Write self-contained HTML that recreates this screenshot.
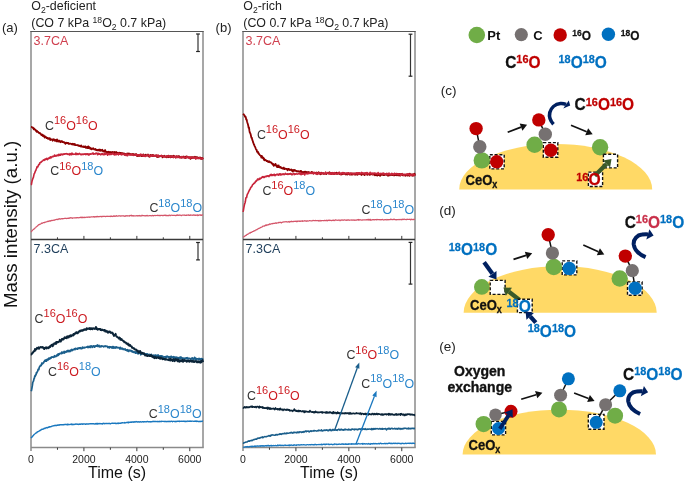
<!DOCTYPE html>
<html><head><meta charset="utf-8"><style>
html,body{margin:0;padding:0;background:#fff;}
svg{display:block;will-change:transform;font-family:"Liberation Sans", sans-serif;}
</style></head><body>
<svg width="685" height="482" viewBox="0 0 685 482">
<rect width="685" height="482" fill="#fff"/>
<line x1="31" y1="31.5" x2="31" y2="451.1" stroke="#8a8a8a" stroke-width="1.5"/>
<line x1="203" y1="31.5" x2="203" y2="447.6" stroke="#8a8a8a" stroke-width="1.5"/>
<line x1="30.25" y1="31.5" x2="203.75" y2="31.5" stroke="#555" stroke-width="1.15"/>
<line x1="31" y1="239.5" x2="203" y2="239.5" stroke="#3a3a3a" stroke-width="1.6"/>
<line x1="31" y1="447.6" x2="203.75" y2="447.6" stroke="#8a8a8a" stroke-width="1.5"/>
<line x1="57.46" y1="239.5" x2="57.46" y2="237.3" stroke="#3a3a3a" stroke-width="1"/>
<line x1="57.46" y1="447.6" x2="57.46" y2="449.8" stroke="#3a3a3a" stroke-width="1"/>
<line x1="83.92" y1="239.5" x2="83.92" y2="235.9" stroke="#3a3a3a" stroke-width="1"/>
<line x1="83.92" y1="447.6" x2="83.92" y2="451.20000000000005" stroke="#3a3a3a" stroke-width="1"/>
<line x1="110.38" y1="239.5" x2="110.38" y2="237.3" stroke="#3a3a3a" stroke-width="1"/>
<line x1="110.38" y1="447.6" x2="110.38" y2="449.8" stroke="#3a3a3a" stroke-width="1"/>
<line x1="136.85" y1="239.5" x2="136.85" y2="235.9" stroke="#3a3a3a" stroke-width="1"/>
<line x1="136.85" y1="447.6" x2="136.85" y2="451.20000000000005" stroke="#3a3a3a" stroke-width="1"/>
<line x1="163.31" y1="239.5" x2="163.31" y2="237.3" stroke="#3a3a3a" stroke-width="1"/>
<line x1="163.31" y1="447.6" x2="163.31" y2="449.8" stroke="#3a3a3a" stroke-width="1"/>
<line x1="189.77" y1="239.5" x2="189.77" y2="235.9" stroke="#3a3a3a" stroke-width="1"/>
<line x1="189.77" y1="447.6" x2="189.77" y2="451.20000000000005" stroke="#3a3a3a" stroke-width="1"/>
<text x="31.00" y="462.5" font-size="10.5" fill="#222" font-weight="normal" text-anchor="middle" >0</text>
<text x="83.92" y="462.5" font-size="10.5" fill="#222" font-weight="normal" text-anchor="middle" >2000</text>
<text x="136.85" y="462.5" font-size="10.5" fill="#222" font-weight="normal" text-anchor="middle" >4000</text>
<text x="189.77" y="462.5" font-size="10.5" fill="#222" font-weight="normal" text-anchor="middle" >6000</text>
<text x="117.00" y="478.2" font-size="16" fill="#111" font-weight="normal" text-anchor="middle" >Time (s)</text>
<path d="M31.00,232.00 L31.40,231.62 L31.80,231.06 L32.20,230.51 L32.60,230.18 L33.00,229.67 L33.41,229.48 L33.81,229.35 L34.21,228.61 L34.61,228.22 L35.01,228.09 L35.41,227.72 L35.81,227.33 L36.21,226.79 L36.61,226.64 L37.01,226.46 L37.41,225.74 L37.82,225.62 L38.22,225.04 L38.62,224.89 L39.02,224.53 L39.42,224.61 L39.82,224.18 L40.22,224.28 L40.62,224.06 L41.02,223.80 L41.42,223.15 L41.83,223.37 L42.23,223.30 L42.63,223.17 L43.03,222.69 L43.43,222.75 L43.83,222.50 L44.23,222.40 L44.63,222.63 L45.03,222.13 L45.43,222.15 L45.83,222.21 L46.24,221.80 L46.64,221.77 L47.04,221.70 L47.44,221.58 L47.84,221.21 L48.24,221.36 L48.64,221.52 L49.04,220.83 L49.44,221.22 L49.84,220.97 L50.24,220.73 L50.65,221.17 L51.05,220.83 L51.45,220.35 L51.85,220.52 L52.25,220.53 L52.65,220.30 L53.05,220.39 L53.45,220.15 L53.85,220.21 L54.25,220.28 L54.66,219.78 L55.06,219.87 L55.46,219.66 L55.86,219.70 L56.26,219.36 L56.66,219.40 L57.06,219.41 L57.46,219.55 L57.86,219.53 L58.26,218.97 L58.66,219.00 L59.07,219.23 L59.47,218.64 L59.87,218.88 L60.27,218.90 L60.67,219.11 L61.07,218.95 L61.47,218.69 L61.87,218.64 L62.27,218.62 L62.67,218.93 L63.07,218.51 L63.48,218.50 L63.88,218.60 L64.28,218.47 L64.68,218.42 L65.08,218.21 L65.48,218.40 L65.88,218.28 L66.28,218.58 L66.68,218.45 L67.08,218.28 L67.48,218.40 L67.89,218.17 L68.29,218.42 L68.69,218.19 L69.09,218.28 L69.49,217.88 L69.89,218.19 L70.29,217.76 L70.69,217.67 L71.09,217.99 L71.49,217.86 L71.90,218.05 L72.30,218.44 L72.70,217.81 L73.10,217.83 L73.50,217.98 L73.90,218.02 L74.30,217.86 L74.70,217.84 L75.10,218.00 L75.50,217.95 L75.90,217.62 L76.31,217.79 L76.71,217.80 L77.11,217.56 L77.51,217.80 L77.91,217.56 L78.31,217.91 L78.71,217.73 L79.11,217.69 L79.51,217.54 L79.91,217.61 L80.31,217.22 L80.72,217.37 L81.12,217.65 L81.52,217.13 L81.92,217.70 L82.32,217.16 L82.72,217.64 L83.12,217.30 L83.52,217.60 L83.92,217.45 L84.32,217.09 L84.72,217.63 L85.13,217.65 L85.53,217.32 L85.93,217.26 L86.33,217.26 L86.73,217.07 L87.13,217.47 L87.53,217.12 L87.93,217.19 L88.33,217.02 L88.73,217.03 L89.14,216.88 L89.54,217.37 L89.94,217.06 L90.34,217.26 L90.74,217.05 L91.14,216.89 L91.54,216.94 L91.94,216.87 L92.34,216.97 L92.74,216.87 L93.14,216.86 L93.55,216.62 L93.95,216.72 L94.35,217.19 L94.75,216.70 L95.15,216.61 L95.55,216.86 L95.95,217.06 L96.35,216.47 L96.75,216.70 L97.15,216.59 L97.55,216.35 L97.96,216.83 L98.36,216.66 L98.76,216.66 L99.16,216.47 L99.56,216.70 L99.96,216.48 L100.36,216.54 L100.76,216.33 L101.16,216.29 L101.56,216.79 L101.97,216.40 L102.37,216.55 L102.77,216.46 L103.17,216.37 L103.57,216.34 L103.97,216.55 L104.37,216.35 L104.77,216.37 L105.17,216.39 L105.57,216.61 L105.97,216.49 L106.38,216.42 L106.78,216.22 L107.18,216.05 L107.58,216.50 L107.98,216.49 L108.38,216.26 L108.78,216.39 L109.18,216.43 L109.58,216.43 L109.98,216.43 L110.38,216.15 L110.79,216.53 L111.19,215.97 L111.59,216.38 L111.99,216.30 L112.39,216.37 L112.79,216.56 L113.19,216.47 L113.59,215.94 L113.99,215.82 L114.39,216.31 L114.79,215.94 L115.20,216.13 L115.60,216.29 L116.00,215.79 L116.40,215.69 L116.80,216.15 L117.20,216.10 L117.60,216.04 L118.00,216.09 L118.40,215.90 L118.80,215.76 L119.21,216.02 L119.61,215.85 L120.01,215.71 L120.41,216.14 L120.81,216.02 L121.21,216.10 L121.61,215.82 L122.01,215.88 L122.41,215.80 L122.81,215.82 L123.21,216.03 L123.62,215.82 L124.02,216.04 L124.42,216.04 L124.82,216.37 L125.22,215.68 L125.62,216.13 L126.02,215.92 L126.42,215.93 L126.82,215.64 L127.22,215.83 L127.62,216.07 L128.03,215.90 L128.43,215.92 L128.83,215.84 L129.23,216.13 L129.63,215.88 L130.03,215.44 L130.43,215.74 L130.83,215.48 L131.23,215.22 L131.63,215.75 L132.03,216.12 L132.44,215.86 L132.84,215.61 L133.24,215.65 L133.64,216.06 L134.04,215.86 L134.44,215.83 L134.84,215.81 L135.24,215.82 L135.64,215.97 L136.04,215.91 L136.45,215.84 L136.85,215.58 L137.25,215.89 L137.65,215.64 L138.05,215.99 L138.45,215.51 L138.85,215.73 L139.25,215.75 L139.65,215.49 L140.05,216.09 L140.45,216.03 L140.86,215.64 L141.26,215.88 L141.66,215.80 L142.06,215.20 L142.46,215.76 L142.86,215.69 L143.26,215.72 L143.66,215.48 L144.06,215.64 L144.46,215.65 L144.86,215.92 L145.27,215.74 L145.67,215.67 L146.07,215.97 L146.47,215.55 L146.87,215.58 L147.27,215.29 L147.67,215.96 L148.07,215.83 L148.47,215.82 L148.87,215.76 L149.28,215.64 L149.68,215.66 L150.08,215.56 L150.48,215.57 L150.88,215.61 L151.28,215.90 L151.68,215.70 L152.08,215.58 L152.48,215.47 L152.88,215.45 L153.28,215.89 L153.69,215.67 L154.09,215.57 L154.49,215.49 L154.89,215.33 L155.29,215.53 L155.69,215.72 L156.09,215.46 L156.49,215.49 L156.89,215.48 L157.29,215.54 L157.69,215.20 L158.10,215.46 L158.50,215.34 L158.90,215.68 L159.30,215.34 L159.70,215.61 L160.10,215.79 L160.50,215.42 L160.90,215.36 L161.30,215.51 L161.70,215.47 L162.10,215.26 L162.51,215.55 L162.91,215.86 L163.31,215.40 L163.71,215.40 L164.11,215.23 L164.51,215.50 L164.91,215.18 L165.31,215.20 L165.71,215.68 L166.11,215.24 L166.52,215.63 L166.92,215.71 L167.32,215.46 L167.72,215.51 L168.12,215.78 L168.52,215.35 L168.92,215.27 L169.32,215.11 L169.72,215.39 L170.12,215.67 L170.52,215.56 L170.93,215.18 L171.33,215.19 L171.73,215.25 L172.13,215.41 L172.53,215.31 L172.93,215.39 L173.33,215.40 L173.73,215.27 L174.13,215.32 L174.53,215.37 L174.93,215.30 L175.34,215.42 L175.74,215.69 L176.14,215.43 L176.54,215.32 L176.94,214.96 L177.34,215.38 L177.74,214.90 L178.14,215.01 L178.54,215.46 L178.94,215.42 L179.34,215.25 L179.75,214.93 L180.15,215.20 L180.55,215.13 L180.95,215.39 L181.35,215.71 L181.75,215.30 L182.15,215.10 L182.55,215.01 L182.95,215.23 L183.35,215.21 L183.76,215.01 L184.16,215.26 L184.56,215.00 L184.96,215.45 L185.36,215.44 L185.76,215.44 L186.16,215.12 L186.56,215.32 L186.96,215.18 L187.36,215.13 L187.76,215.14 L188.17,214.94 L188.57,214.91 L188.97,215.35 L189.37,215.15 L189.77,215.23 L190.17,215.38 L190.57,214.83 L190.97,215.02 L191.37,215.21 L191.77,215.25 L192.17,215.09 L192.58,215.37 L192.98,215.20 L193.38,214.92 L193.78,214.97 L194.18,215.32 L194.58,215.24 L194.98,214.77 L195.38,215.42 L195.78,215.26 L196.18,215.41 L196.59,215.06 L196.99,215.08 L197.39,214.91 L197.79,215.64 L198.19,215.09 L198.59,215.44 L198.99,214.99 L199.39,215.15 L199.79,214.78 L200.19,215.04 L200.59,215.31 L201.00,214.86 L201.40,215.32 L201.80,215.17 L202.20,214.90 L202.60,215.00 L203.00,215.01" fill="none" stroke="#d4566a" stroke-width="1.2" stroke-linejoin="round"/>
<path d="M31.00,126.78 L31.40,126.84 L31.80,127.00 L32.20,127.57 L32.60,127.51 L33.00,127.68 L33.41,128.60 L33.81,129.37 L34.21,128.46 L34.61,129.53 L35.01,129.50 L35.41,129.63 L35.81,130.84 L36.21,130.45 L36.61,131.75 L37.01,130.90 L37.41,131.77 L37.82,131.75 L38.22,131.78 L38.62,132.75 L39.02,132.68 L39.42,133.36 L39.82,133.35 L40.22,133.15 L40.62,133.96 L41.02,134.35 L41.42,135.12 L41.83,134.50 L42.23,135.24 L42.63,134.70 L43.03,136.18 L43.43,135.60 L43.83,135.52 L44.23,136.66 L44.63,137.49 L45.03,136.42 L45.43,136.86 L45.83,137.24 L46.24,137.24 L46.64,138.16 L47.04,137.73 L47.44,137.92 L47.84,138.72 L48.24,138.19 L48.64,138.92 L49.04,138.34 L49.44,138.35 L49.84,138.16 L50.24,140.12 L50.65,139.14 L51.05,139.54 L51.45,139.51 L51.85,139.71 L52.25,139.75 L52.65,140.78 L53.05,139.40 L53.45,139.24 L53.85,139.60 L54.25,139.53 L54.66,140.66 L55.06,140.79 L55.46,139.99 L55.86,139.86 L56.26,140.47 L56.66,141.43 L57.06,139.41 L57.46,141.17 L57.86,140.46 L58.26,141.61 L58.66,140.64 L59.07,141.13 L59.47,140.62 L59.87,140.98 L60.27,142.26 L60.67,142.08 L61.07,141.56 L61.47,141.43 L61.87,141.01 L62.27,141.86 L62.67,142.14 L63.07,142.21 L63.48,142.30 L63.88,141.88 L64.28,142.51 L64.68,142.62 L65.08,143.38 L65.48,143.76 L65.88,142.85 L66.28,142.63 L66.68,143.08 L67.08,142.90 L67.48,142.92 L67.89,143.36 L68.29,142.96 L68.69,143.88 L69.09,143.61 L69.49,143.88 L69.89,143.76 L70.29,143.57 L70.69,143.55 L71.09,144.00 L71.49,143.93 L71.90,144.42 L72.30,144.39 L72.70,143.80 L73.10,144.60 L73.50,143.98 L73.90,144.43 L74.30,144.68 L74.70,143.88 L75.10,145.05 L75.50,145.16 L75.90,145.09 L76.31,145.04 L76.71,145.15 L77.11,144.94 L77.51,145.37 L77.91,145.31 L78.31,145.72 L78.71,145.15 L79.11,145.96 L79.51,145.99 L79.91,145.93 L80.31,145.87 L80.72,146.44 L81.12,145.42 L81.52,146.56 L81.92,146.53 L82.32,146.64 L82.72,146.77 L83.12,146.33 L83.52,146.61 L83.92,147.14 L84.32,147.12 L84.72,147.09 L85.13,146.31 L85.53,147.42 L85.93,147.82 L86.33,147.82 L86.73,147.52 L87.13,146.71 L87.53,148.04 L87.93,147.58 L88.33,146.47 L88.73,148.01 L89.14,147.17 L89.54,147.35 L89.94,147.77 L90.34,148.81 L90.74,148.08 L91.14,148.49 L91.54,149.32 L91.94,149.34 L92.34,148.59 L92.74,148.62 L93.14,148.21 L93.55,148.59 L93.95,149.25 L94.35,149.33 L94.75,149.29 L95.15,149.83 L95.55,149.05 L95.95,149.50 L96.35,150.00 L96.75,150.02 L97.15,150.36 L97.55,150.12 L97.96,149.86 L98.36,150.29 L98.76,149.70 L99.16,149.48 L99.56,150.67 L99.96,150.44 L100.36,150.71 L100.76,149.79 L101.16,150.54 L101.56,150.50 L101.97,150.44 L102.37,149.82 L102.77,150.84 L103.17,151.53 L103.57,151.33 L103.97,150.91 L104.37,151.26 L104.77,151.71 L105.17,150.01 L105.57,151.39 L105.97,151.78 L106.38,151.91 L106.78,152.48 L107.18,152.25 L107.58,151.90 L107.98,151.94 L108.38,152.24 L108.78,151.63 L109.18,151.93 L109.58,152.46 L109.98,153.03 L110.38,152.03 L110.79,152.13 L111.19,152.30 L111.59,152.93 L111.99,152.29 L112.39,153.08 L112.79,151.91 L113.19,152.35 L113.59,152.39 L113.99,152.93 L114.39,153.11 L114.79,151.87 L115.20,152.22 L115.60,152.89 L116.00,152.44 L116.40,152.05 L116.80,153.38 L117.20,153.15 L117.60,153.19 L118.00,152.75 L118.40,153.55 L118.80,152.96 L119.21,153.67 L119.61,152.72 L120.01,152.79 L120.41,153.36 L120.81,152.95 L121.21,153.69 L121.61,153.52 L122.01,152.98 L122.41,153.52 L122.81,153.35 L123.21,154.03 L123.62,153.30 L124.02,153.43 L124.42,154.30 L124.82,154.86 L125.22,154.78 L125.62,153.86 L126.02,153.98 L126.42,154.68 L126.82,153.89 L127.22,153.50 L127.62,154.09 L128.03,154.30 L128.43,153.70 L128.83,153.33 L129.23,153.48 L129.63,154.57 L130.03,153.89 L130.43,154.24 L130.83,154.46 L131.23,154.70 L131.63,154.26 L132.03,154.72 L132.44,154.06 L132.84,154.36 L133.24,154.06 L133.64,155.18 L134.04,154.64 L134.44,154.31 L134.84,154.54 L135.24,154.64 L135.64,155.14 L136.04,154.02 L136.45,154.34 L136.85,154.70 L137.25,156.19 L137.65,155.43 L138.05,154.93 L138.45,155.37 L138.85,156.07 L139.25,154.96 L139.65,154.92 L140.05,155.74 L140.45,155.41 L140.86,155.53 L141.26,154.96 L141.66,156.21 L142.06,156.13 L142.46,155.58 L142.86,155.66 L143.26,154.33 L143.66,155.69 L144.06,155.30 L144.46,155.64 L144.86,155.78 L145.27,155.30 L145.67,154.64 L146.07,155.70 L146.47,155.16 L146.87,155.39 L147.27,155.28 L147.67,155.43 L148.07,154.47 L148.47,156.25 L148.87,155.79 L149.28,156.24 L149.68,156.69 L150.08,155.73 L150.48,154.84 L150.88,155.31 L151.28,155.18 L151.68,155.55 L152.08,155.86 L152.48,154.83 L152.88,156.03 L153.28,155.12 L153.69,156.04 L154.09,155.85 L154.49,155.77 L154.89,155.91 L155.29,155.69 L155.69,155.67 L156.09,155.16 L156.49,156.00 L156.89,156.95 L157.29,157.04 L157.69,156.73 L158.10,156.44 L158.50,155.76 L158.90,156.84 L159.30,156.10 L159.70,156.12 L160.10,156.02 L160.50,156.23 L160.90,155.98 L161.30,156.17 L161.70,155.69 L162.10,156.06 L162.51,157.41 L162.91,156.25 L163.31,156.18 L163.71,156.58 L164.11,156.69 L164.51,155.80 L164.91,156.27 L165.31,156.85 L165.71,156.54 L166.11,156.48 L166.52,157.22 L166.92,156.12 L167.32,156.52 L167.72,156.23 L168.12,157.26 L168.52,155.55 L168.92,156.21 L169.32,156.30 L169.72,156.92 L170.12,156.91 L170.52,157.32 L170.93,155.86 L171.33,157.04 L171.73,156.54 L172.13,156.37 L172.53,156.99 L172.93,156.28 L173.33,155.72 L173.73,156.59 L174.13,156.05 L174.53,156.49 L174.93,157.02 L175.34,157.01 L175.74,157.67 L176.14,156.79 L176.54,156.15 L176.94,156.55 L177.34,156.49 L177.74,156.36 L178.14,157.21 L178.54,156.69 L178.94,156.04 L179.34,157.40 L179.75,157.01 L180.15,157.27 L180.55,157.16 L180.95,157.44 L181.35,157.16 L181.75,157.78 L182.15,157.40 L182.55,157.40 L182.95,157.43 L183.35,156.51 L183.76,157.18 L184.16,157.15 L184.56,157.40 L184.96,156.64 L185.36,158.16 L185.76,157.41 L186.16,156.77 L186.56,156.54 L186.96,157.28 L187.36,157.39 L187.76,157.10 L188.17,157.52 L188.57,157.17 L188.97,157.79 L189.37,157.17 L189.77,157.53 L190.17,158.06 L190.57,158.88 L190.97,157.11 L191.37,157.40 L191.77,157.23 L192.17,158.06 L192.58,157.12 L192.98,157.47 L193.38,157.71 L193.78,157.26 L194.18,157.29 L194.58,157.55 L194.98,156.76 L195.38,157.10 L195.78,157.64 L196.18,157.94 L196.59,157.79 L196.99,157.02 L197.39,157.69 L197.79,158.34 L198.19,158.24 L198.59,157.94 L198.99,157.56 L199.39,158.34 L199.79,157.75 L200.19,157.48 L200.59,157.68 L201.00,158.83 L201.40,158.23 L201.80,158.72 L202.20,157.92 L202.60,158.65 L203.00,157.90" fill="none" stroke="#8c0000" stroke-width="1.8" stroke-linejoin="round"/>
<path d="M31.00,184.93 L31.40,184.64 L31.80,182.42 L32.20,180.45 L32.60,179.28 L33.00,178.16 L33.41,177.32 L33.81,175.37 L34.21,173.63 L34.61,173.13 L35.01,172.12 L35.41,171.06 L35.81,170.56 L36.21,169.13 L36.61,168.46 L37.01,166.81 L37.41,167.00 L37.82,166.92 L38.22,165.71 L38.62,164.90 L39.02,164.31 L39.42,164.53 L39.82,162.82 L40.22,162.74 L40.62,162.58 L41.02,162.32 L41.42,161.44 L41.83,161.46 L42.23,160.92 L42.63,160.85 L43.03,160.50 L43.43,159.82 L43.83,160.12 L44.23,160.34 L44.63,159.33 L45.03,159.48 L45.43,159.72 L45.83,158.77 L46.24,159.17 L46.64,158.45 L47.04,159.27 L47.44,159.63 L47.84,159.33 L48.24,158.16 L48.64,158.42 L49.04,157.98 L49.44,157.81 L49.84,158.29 L50.24,156.84 L50.65,157.76 L51.05,157.10 L51.45,157.61 L51.85,156.91 L52.25,156.38 L52.65,156.67 L53.05,156.74 L53.45,156.30 L53.85,156.38 L54.25,155.81 L54.66,154.97 L55.06,156.23 L55.46,156.04 L55.86,155.70 L56.26,155.58 L56.66,155.92 L57.06,155.17 L57.46,154.97 L57.86,155.11 L58.26,155.65 L58.66,154.40 L59.07,155.48 L59.47,154.57 L59.87,154.29 L60.27,155.27 L60.67,154.58 L61.07,153.97 L61.47,154.32 L61.87,154.83 L62.27,154.88 L62.67,154.09 L63.07,154.41 L63.48,154.49 L63.88,153.83 L64.28,154.23 L64.68,154.02 L65.08,153.75 L65.48,153.74 L65.88,153.97 L66.28,153.93 L66.68,153.65 L67.08,153.71 L67.48,154.40 L67.89,154.00 L68.29,154.30 L68.69,154.45 L69.09,154.17 L69.49,154.94 L69.89,153.55 L70.29,154.29 L70.69,153.79 L71.09,154.77 L71.49,154.71 L71.90,153.08 L72.30,153.53 L72.70,154.27 L73.10,154.34 L73.50,154.32 L73.90,153.97 L74.30,154.22 L74.70,154.32 L75.10,154.00 L75.50,154.51 L75.90,153.04 L76.31,154.35 L76.71,153.61 L77.11,154.52 L77.51,154.00 L77.91,153.71 L78.31,154.29 L78.71,153.72 L79.11,153.73 L79.51,153.44 L79.91,154.14 L80.31,154.39 L80.72,154.63 L81.12,154.11 L81.52,154.65 L81.92,154.20 L82.32,154.15 L82.72,154.45 L83.12,154.67 L83.52,154.05 L83.92,154.09 L84.32,154.13 L84.72,154.23 L85.13,153.78 L85.53,154.63 L85.93,153.97 L86.33,154.34 L86.73,153.74 L87.13,154.25 L87.53,154.25 L87.93,153.87 L88.33,154.95 L88.73,154.19 L89.14,154.81 L89.54,154.44 L89.94,153.70 L90.34,153.83 L90.74,154.20 L91.14,154.03 L91.54,154.02 L91.94,153.87 L92.34,153.19 L92.74,153.90 L93.14,153.01 L93.55,154.17 L93.95,153.68 L94.35,153.68 L94.75,153.91 L95.15,154.13 L95.55,153.37 L95.95,153.23 L96.35,153.53 L96.75,153.10 L97.15,153.58 L97.55,154.74 L97.96,153.55 L98.36,154.32 L98.76,153.41 L99.16,154.16 L99.56,153.89 L99.96,154.01 L100.36,154.29 L100.76,154.83 L101.16,154.13 L101.56,154.10 L101.97,153.61 L102.37,154.31 L102.77,153.94 L103.17,154.43 L103.57,154.04 L103.97,154.85 L104.37,153.18 L104.77,153.94 L105.17,154.47 L105.57,153.92 L105.97,153.73 L106.38,153.97 L106.78,153.47 L107.18,154.15 L107.58,155.20 L107.98,154.62 L108.38,153.61 L108.78,153.72 L109.18,153.93 L109.58,154.57 L109.98,153.75 L110.38,153.82 L110.79,154.53 L111.19,154.53 L111.59,153.97 L111.99,153.64 L112.39,153.45 L112.79,153.84 L113.19,153.16 L113.59,154.50 L113.99,153.89 L114.39,154.39 L114.79,155.02 L115.20,154.71 L115.60,153.67 L116.00,154.59 L116.40,154.72 L116.80,153.87 L117.20,153.78 L117.60,154.17 L118.00,153.51 L118.40,154.90 L118.80,153.16 L119.21,153.76 L119.61,154.14 L120.01,154.17 L120.41,154.36 L120.81,154.42 L121.21,154.21 L121.61,154.83 L122.01,153.37 L122.41,154.35 L122.81,154.04 L123.21,154.44 L123.62,154.49 L124.02,154.00 L124.42,154.14 L124.82,154.80 L125.22,154.61 L125.62,154.17 L126.02,155.41 L126.42,155.55 L126.82,153.87 L127.22,154.68 L127.62,155.69 L128.03,154.93 L128.43,154.70 L128.83,154.53 L129.23,154.39 L129.63,154.56 L130.03,154.43 L130.43,155.03 L130.83,154.54 L131.23,154.54 L131.63,154.22 L132.03,154.76 L132.44,154.40 L132.84,154.74 L133.24,155.31 L133.64,155.03 L134.04,155.11 L134.44,155.06 L134.84,154.95 L135.24,154.89 L135.64,154.83 L136.04,155.33 L136.45,154.52 L136.85,155.63 L137.25,155.06 L137.65,154.73 L138.05,154.87 L138.45,154.80 L138.85,155.20 L139.25,154.82 L139.65,155.68 L140.05,154.83 L140.45,154.18 L140.86,154.90 L141.26,154.34 L141.66,155.24 L142.06,155.76 L142.46,155.59 L142.86,154.71 L143.26,154.99 L143.66,156.15 L144.06,155.51 L144.46,155.39 L144.86,155.88 L145.27,156.53 L145.67,156.03 L146.07,155.52 L146.47,155.64 L146.87,155.78 L147.27,155.24 L147.67,155.06 L148.07,155.58 L148.47,155.15 L148.87,155.56 L149.28,155.65 L149.68,156.68 L150.08,155.26 L150.48,155.61 L150.88,155.61 L151.28,155.90 L151.68,156.19 L152.08,155.52 L152.48,155.39 L152.88,155.04 L153.28,155.38 L153.69,156.06 L154.09,155.86 L154.49,155.40 L154.89,155.71 L155.29,155.91 L155.69,156.14 L156.09,155.66 L156.49,155.84 L156.89,155.15 L157.29,155.47 L157.69,156.74 L158.10,155.04 L158.50,155.89 L158.90,156.16 L159.30,155.92 L159.70,155.74 L160.10,156.10 L160.50,156.14 L160.90,156.12 L161.30,155.34 L161.70,156.13 L162.10,155.84 L162.51,155.99 L162.91,156.36 L163.31,156.57 L163.71,156.70 L164.11,156.09 L164.51,156.75 L164.91,156.88 L165.31,156.89 L165.71,157.02 L166.11,156.35 L166.52,156.35 L166.92,156.82 L167.32,155.86 L167.72,156.58 L168.12,156.27 L168.52,156.36 L168.92,155.76 L169.32,156.17 L169.72,156.58 L170.12,157.01 L170.52,157.07 L170.93,156.61 L171.33,156.58 L171.73,156.31 L172.13,156.88 L172.53,156.61 L172.93,157.01 L173.33,157.55 L173.73,156.76 L174.13,156.12 L174.53,156.43 L174.93,156.18 L175.34,156.32 L175.74,157.46 L176.14,157.00 L176.54,156.23 L176.94,157.23 L177.34,157.52 L177.74,156.81 L178.14,156.69 L178.54,156.86 L178.94,157.16 L179.34,157.34 L179.75,157.60 L180.15,157.63 L180.55,157.64 L180.95,157.74 L181.35,157.44 L181.75,156.48 L182.15,157.13 L182.55,157.34 L182.95,157.05 L183.35,157.65 L183.76,157.10 L184.16,156.86 L184.56,157.95 L184.96,157.62 L185.36,157.44 L185.76,157.78 L186.16,157.86 L186.56,157.55 L186.96,156.31 L187.36,157.13 L187.76,157.25 L188.17,157.03 L188.57,157.58 L188.97,158.05 L189.37,157.32 L189.77,157.04 L190.17,158.49 L190.57,157.39 L190.97,157.06 L191.37,157.74 L191.77,157.84 L192.17,157.35 L192.58,158.05 L192.98,157.49 L193.38,157.31 L193.78,157.83 L194.18,158.11 L194.58,157.50 L194.98,157.96 L195.38,157.78 L195.78,159.12 L196.18,157.55 L196.59,158.51 L196.99,157.88 L197.39,157.87 L197.79,158.27 L198.19,158.37 L198.59,158.55 L198.99,158.15 L199.39,157.75 L199.79,157.80 L200.19,158.29 L200.59,158.34 L201.00,158.73 L201.40,158.31 L201.80,158.62 L202.20,158.84 L202.60,158.25 L203.00,157.53" fill="none" stroke="#c8243a" stroke-width="1.6" stroke-linejoin="round"/>
<path d="M31.00,438.12 L31.40,437.51 L31.80,437.41 L32.20,436.51 L32.60,436.31 L33.00,435.73 L33.41,435.45 L33.81,434.93 L34.21,434.40 L34.61,434.03 L35.01,433.75 L35.41,433.45 L35.81,433.05 L36.21,432.85 L36.61,432.82 L37.01,432.07 L37.41,432.10 L37.82,431.68 L38.22,431.59 L38.62,431.45 L39.02,431.07 L39.42,430.95 L39.82,430.37 L40.22,430.54 L40.62,430.06 L41.02,430.03 L41.42,429.76 L41.83,429.14 L42.23,429.23 L42.63,429.19 L43.03,429.22 L43.43,428.87 L43.83,428.70 L44.23,428.30 L44.63,428.57 L45.03,428.48 L45.43,428.08 L45.83,427.90 L46.24,427.56 L46.64,427.81 L47.04,427.97 L47.44,427.56 L47.84,427.53 L48.24,427.32 L48.64,426.99 L49.04,427.24 L49.44,426.75 L49.84,426.80 L50.24,426.78 L50.65,426.77 L51.05,426.60 L51.45,426.50 L51.85,426.23 L52.25,426.05 L52.65,426.16 L53.05,425.96 L53.45,425.78 L53.85,425.70 L54.25,425.73 L54.66,425.44 L55.06,425.43 L55.46,425.31 L55.86,425.51 L56.26,425.47 L56.66,425.64 L57.06,425.05 L57.46,425.11 L57.86,425.29 L58.26,425.06 L58.66,424.99 L59.07,425.25 L59.47,424.89 L59.87,424.73 L60.27,424.67 L60.67,424.89 L61.07,424.85 L61.47,424.58 L61.87,424.61 L62.27,424.82 L62.67,424.80 L63.07,424.60 L63.48,424.77 L63.88,424.74 L64.28,424.37 L64.68,424.57 L65.08,424.66 L65.48,424.49 L65.88,424.24 L66.28,424.50 L66.68,424.64 L67.08,424.75 L67.48,424.17 L67.89,424.88 L68.29,424.30 L68.69,424.60 L69.09,424.63 L69.49,424.57 L69.89,424.44 L70.29,424.23 L70.69,424.48 L71.09,424.27 L71.49,423.99 L71.90,424.78 L72.30,424.45 L72.70,424.60 L73.10,424.18 L73.50,424.53 L73.90,424.54 L74.30,424.52 L74.70,424.27 L75.10,424.09 L75.50,424.23 L75.90,423.92 L76.31,423.98 L76.71,424.24 L77.11,424.07 L77.51,424.18 L77.91,424.18 L78.31,424.48 L78.71,424.38 L79.11,424.17 L79.51,424.34 L79.91,424.04 L80.31,424.09 L80.72,424.27 L81.12,423.94 L81.52,424.08 L81.92,423.91 L82.32,424.12 L82.72,424.33 L83.12,423.97 L83.52,424.10 L83.92,423.92 L84.32,423.88 L84.72,423.85 L85.13,424.25 L85.53,424.37 L85.93,424.08 L86.33,423.89 L86.73,424.09 L87.13,423.92 L87.53,424.08 L87.93,423.99 L88.33,423.98 L88.73,424.02 L89.14,423.83 L89.54,423.85 L89.94,423.64 L90.34,423.82 L90.74,423.67 L91.14,423.85 L91.54,423.72 L91.94,423.87 L92.34,423.91 L92.74,423.62 L93.14,423.70 L93.55,423.68 L93.95,423.92 L94.35,424.06 L94.75,423.92 L95.15,423.73 L95.55,424.00 L95.95,423.54 L96.35,423.98 L96.75,423.65 L97.15,423.33 L97.55,424.13 L97.96,423.96 L98.36,423.56 L98.76,423.74 L99.16,423.67 L99.56,423.71 L99.96,423.46 L100.36,423.58 L100.76,423.74 L101.16,423.69 L101.56,423.83 L101.97,423.66 L102.37,423.99 L102.77,423.52 L103.17,423.66 L103.57,423.32 L103.97,423.41 L104.37,423.79 L104.77,423.44 L105.17,423.66 L105.57,423.56 L105.97,423.40 L106.38,423.50 L106.78,423.46 L107.18,423.46 L107.58,423.63 L107.98,423.61 L108.38,423.41 L108.78,423.35 L109.18,423.52 L109.58,423.45 L109.98,423.61 L110.38,423.85 L110.79,423.56 L111.19,423.42 L111.59,423.39 L111.99,423.27 L112.39,423.26 L112.79,423.23 L113.19,423.31 L113.59,423.29 L113.99,423.45 L114.39,423.27 L114.79,423.29 L115.20,423.12 L115.60,423.53 L116.00,423.35 L116.40,423.53 L116.80,423.36 L117.20,423.45 L117.60,423.18 L118.00,423.31 L118.40,423.59 L118.80,422.98 L119.21,423.32 L119.61,423.38 L120.01,423.16 L120.41,423.19 L120.81,423.24 L121.21,422.91 L121.61,423.05 L122.01,422.82 L122.41,422.82 L122.81,422.79 L123.21,422.83 L123.62,422.84 L124.02,422.85 L124.42,422.53 L124.82,423.01 L125.22,422.85 L125.62,422.75 L126.02,422.54 L126.42,422.55 L126.82,422.61 L127.22,422.55 L127.62,422.19 L128.03,422.52 L128.43,422.82 L128.83,422.05 L129.23,422.45 L129.63,422.32 L130.03,422.22 L130.43,422.41 L130.83,421.99 L131.23,422.16 L131.63,422.33 L132.03,422.05 L132.44,421.99 L132.84,422.05 L133.24,421.94 L133.64,422.22 L134.04,421.82 L134.44,422.08 L134.84,421.74 L135.24,422.02 L135.64,421.89 L136.04,421.50 L136.45,421.89 L136.85,421.72 L137.25,421.81 L137.65,422.11 L138.05,421.69 L138.45,421.69 L138.85,422.07 L139.25,421.86 L139.65,422.07 L140.05,421.88 L140.45,421.68 L140.86,421.80 L141.26,422.00 L141.66,421.94 L142.06,421.79 L142.46,421.79 L142.86,421.76 L143.26,421.68 L143.66,422.06 L144.06,421.76 L144.46,421.58 L144.86,421.67 L145.27,421.85 L145.67,421.83 L146.07,421.71 L146.47,421.62 L146.87,421.72 L147.27,421.45 L147.67,421.50 L148.07,421.82 L148.47,421.62 L148.87,421.74 L149.28,421.87 L149.68,421.77 L150.08,421.67 L150.48,421.99 L150.88,421.76 L151.28,421.60 L151.68,421.76 L152.08,421.70 L152.48,421.50 L152.88,421.64 L153.28,421.60 L153.69,421.31 L154.09,421.59 L154.49,421.56 L154.89,421.53 L155.29,421.34 L155.69,421.54 L156.09,421.58 L156.49,421.60 L156.89,421.40 L157.29,421.67 L157.69,421.38 L158.10,421.53 L158.50,421.76 L158.90,421.44 L159.30,421.47 L159.70,421.71 L160.10,421.48 L160.50,421.49 L160.90,421.56 L161.30,421.69 L161.70,421.18 L162.10,421.39 L162.51,421.36 L162.91,421.34 L163.31,421.37 L163.71,421.37 L164.11,421.54 L164.51,421.35 L164.91,421.50 L165.31,421.54 L165.71,421.37 L166.11,421.49 L166.52,421.72 L166.92,421.52 L167.32,421.36 L167.72,421.45 L168.12,421.31 L168.52,421.49 L168.92,421.58 L169.32,421.32 L169.72,421.41 L170.12,421.61 L170.52,421.36 L170.93,421.46 L171.33,421.27 L171.73,421.30 L172.13,421.34 L172.53,421.74 L172.93,421.35 L173.33,421.33 L173.73,421.32 L174.13,421.38 L174.53,421.50 L174.93,421.43 L175.34,421.71 L175.74,421.43 L176.14,421.61 L176.54,421.43 L176.94,421.48 L177.34,421.17 L177.74,421.36 L178.14,421.37 L178.54,421.34 L178.94,421.05 L179.34,421.50 L179.75,421.31 L180.15,421.30 L180.55,421.32 L180.95,421.33 L181.35,421.42 L181.75,421.17 L182.15,421.21 L182.55,421.40 L182.95,421.37 L183.35,421.29 L183.76,421.26 L184.16,421.22 L184.56,421.33 L184.96,421.52 L185.36,421.18 L185.76,421.57 L186.16,421.46 L186.56,421.27 L186.96,421.45 L187.36,421.11 L187.76,421.07 L188.17,421.13 L188.57,421.26 L188.97,421.28 L189.37,421.25 L189.77,421.34 L190.17,421.00 L190.57,421.39 L190.97,421.10 L191.37,421.22 L191.77,421.25 L192.17,421.14 L192.58,421.11 L192.98,421.16 L193.38,421.31 L193.78,421.40 L194.18,421.39 L194.58,421.16 L194.98,421.19 L195.38,421.17 L195.78,421.37 L196.18,421.00 L196.59,421.49 L196.99,421.23 L197.39,421.19 L197.79,421.35 L198.19,421.46 L198.59,421.35 L198.99,421.46 L199.39,421.32 L199.79,421.49 L200.19,421.49 L200.59,421.29 L201.00,421.52 L201.40,421.33 L201.80,421.31 L202.20,421.16 L202.60,421.26 L203.00,421.42" fill="none" stroke="#1a78bf" stroke-width="1.4" stroke-linejoin="round"/>
<path d="M31.20,391.34 L31.60,389.94 L32.00,387.52 L32.40,385.38 L32.81,382.24 L33.21,381.64 L33.61,380.64 L34.01,378.71 L34.41,378.03 L34.81,375.79 L35.21,376.38 L35.62,374.83 L36.02,374.74 L36.42,372.54 L36.82,372.96 L37.22,371.65 L37.62,371.34 L38.02,369.66 L38.43,369.02 L38.83,369.68 L39.23,367.40 L39.63,366.75 L40.03,366.30 L40.43,365.30 L40.83,365.83 L41.24,365.58 L41.64,363.89 L42.04,362.95 L42.44,363.97 L42.84,363.54 L43.24,363.01 L43.64,362.80 L44.04,361.43 L44.45,361.44 L44.85,360.51 L45.25,360.18 L45.65,361.08 L46.05,359.97 L46.45,361.18 L46.85,359.82 L47.26,359.21 L47.66,359.70 L48.06,359.98 L48.46,359.11 L48.86,358.06 L49.26,358.66 L49.66,358.99 L50.07,357.88 L50.47,357.58 L50.87,358.32 L51.27,357.73 L51.67,356.96 L52.07,357.18 L52.47,356.85 L52.88,357.24 L53.28,357.00 L53.68,357.38 L54.08,357.01 L54.48,355.72 L54.88,356.55 L55.28,356.63 L55.69,356.24 L56.09,356.36 L56.49,355.40 L56.89,355.02 L57.29,355.78 L57.69,354.60 L58.09,353.87 L58.50,355.28 L58.90,354.22 L59.30,354.24 L59.70,353.51 L60.10,353.36 L60.50,353.26 L60.90,353.47 L61.31,353.66 L61.71,352.14 L62.11,353.49 L62.51,352.34 L62.91,352.22 L63.31,352.92 L63.71,352.38 L64.11,351.48 L64.52,353.01 L64.92,351.50 L65.32,351.90 L65.72,351.73 L66.12,352.19 L66.52,351.12 L66.92,351.72 L67.33,350.72 L67.73,351.54 L68.13,350.48 L68.53,350.58 L68.93,351.61 L69.33,350.73 L69.73,350.53 L70.14,351.51 L70.54,350.49 L70.94,349.82 L71.34,350.52 L71.74,349.48 L72.14,350.56 L72.54,350.52 L72.95,349.55 L73.35,349.43 L73.75,349.75 L74.15,349.58 L74.55,349.00 L74.95,349.69 L75.35,348.29 L75.76,349.00 L76.16,348.93 L76.56,348.90 L76.96,349.09 L77.36,348.23 L77.76,349.05 L78.16,348.57 L78.57,348.24 L78.97,347.79 L79.37,347.78 L79.77,348.46 L80.17,347.71 L80.57,348.13 L80.97,348.54 L81.38,348.43 L81.78,348.61 L82.18,347.59 L82.58,347.11 L82.98,348.08 L83.38,347.64 L83.78,347.96 L84.19,347.33 L84.59,347.85 L84.99,347.60 L85.39,347.46 L85.79,347.29 L86.19,347.17 L86.59,347.02 L86.99,346.96 L87.40,347.28 L87.80,346.48 L88.20,347.55 L88.60,346.59 L89.00,347.09 L89.40,346.52 L89.80,346.41 L90.21,347.52 L90.61,346.32 L91.01,345.81 L91.41,346.06 L91.81,346.24 L92.21,347.45 L92.61,346.45 L93.02,346.79 L93.42,345.80 L93.82,346.45 L94.22,346.59 L94.62,347.13 L95.02,345.86 L95.42,346.50 L95.83,346.33 L96.23,345.65 L96.63,346.14 L97.03,346.00 L97.43,344.96 L97.83,346.42 L98.23,346.38 L98.64,345.88 L99.04,345.43 L99.44,346.84 L99.84,346.23 L100.24,346.62 L100.64,346.82 L101.04,345.87 L101.45,346.55 L101.85,346.04 L102.25,346.14 L102.65,346.15 L103.05,346.22 L103.45,346.80 L103.85,346.33 L104.26,346.22 L104.66,346.19 L105.06,346.53 L105.46,345.95 L105.86,346.18 L106.26,346.44 L106.66,346.22 L107.06,346.48 L107.47,346.27 L107.87,347.61 L108.27,347.31 L108.67,346.91 L109.07,346.70 L109.47,347.86 L109.87,346.96 L110.28,346.79 L110.68,347.03 L111.08,347.07 L111.48,347.66 L111.88,347.00 L112.28,348.10 L112.68,346.66 L113.09,347.50 L113.49,346.70 L113.89,348.17 L114.29,347.15 L114.69,347.34 L115.09,347.89 L115.49,348.12 L115.90,347.00 L116.30,347.44 L116.70,346.98 L117.10,347.82 L117.50,347.77 L117.90,347.71 L118.30,347.61 L118.71,347.84 L119.11,347.73 L119.51,348.44 L119.91,349.02 L120.31,347.38 L120.71,348.38 L121.11,348.32 L121.52,348.88 L121.92,348.26 L122.32,348.77 L122.72,348.43 L123.12,349.41 L123.52,349.22 L123.92,349.20 L124.33,349.58 L124.73,349.39 L125.13,348.85 L125.53,350.04 L125.93,350.00 L126.33,349.89 L126.73,350.57 L127.14,350.80 L127.54,349.75 L127.94,350.02 L128.34,351.28 L128.74,351.32 L129.14,350.35 L129.54,350.23 L129.94,350.60 L130.35,350.78 L130.75,350.34 L131.15,351.25 L131.55,350.70 L131.95,350.84 L132.35,352.01 L132.75,351.31 L133.16,351.72 L133.56,352.18 L133.96,352.37 L134.36,351.90 L134.76,352.19 L135.16,351.85 L135.56,353.24 L135.97,352.79 L136.37,352.01 L136.77,352.65 L137.17,353.10 L137.57,353.07 L137.97,353.84 L138.37,353.70 L138.78,352.83 L139.18,353.13 L139.58,352.62 L139.98,353.47 L140.38,353.50 L140.78,354.86 L141.18,353.63 L141.59,352.62 L141.99,353.41 L142.39,353.88 L142.79,353.27 L143.19,353.54 L143.59,353.87 L143.99,354.30 L144.40,354.12 L144.80,353.83 L145.20,354.74 L145.60,354.14 L146.00,354.23 L146.40,353.86 L146.80,354.22 L147.21,355.01 L147.61,353.94 L148.01,354.77 L148.41,355.23 L148.81,354.74 L149.21,355.11 L149.61,354.49 L150.01,355.76 L150.42,355.71 L150.82,355.33 L151.22,354.38 L151.62,354.79 L152.02,355.85 L152.42,356.27 L152.82,355.61 L153.23,356.13 L153.63,355.25 L154.03,355.51 L154.43,355.65 L154.83,355.90 L155.23,354.97 L155.63,356.25 L156.04,356.48 L156.44,355.29 L156.84,355.23 L157.24,356.12 L157.64,355.66 L158.04,354.84 L158.44,356.47 L158.85,356.18 L159.25,355.91 L159.65,357.24 L160.05,356.29 L160.45,355.89 L160.85,356.35 L161.25,355.82 L161.66,356.00 L162.06,356.61 L162.46,356.18 L162.86,356.27 L163.26,357.36 L163.66,357.00 L164.06,357.01 L164.47,356.91 L164.87,356.92 L165.27,357.44 L165.67,356.74 L166.07,357.72 L166.47,356.35 L166.87,356.74 L167.28,356.21 L167.68,356.77 L168.08,357.23 L168.48,357.73 L168.88,356.71 L169.28,357.08 L169.68,356.94 L170.09,356.78 L170.49,356.59 L170.89,357.25 L171.29,356.39 L171.69,357.34 L172.09,357.33 L172.49,357.03 L172.89,356.89 L173.30,356.73 L173.70,358.39 L174.10,356.82 L174.50,358.30 L174.90,357.85 L175.30,357.40 L175.70,357.04 L176.11,358.17 L176.51,358.54 L176.91,357.24 L177.31,357.59 L177.71,358.29 L178.11,357.97 L178.51,358.83 L178.92,357.57 L179.32,358.16 L179.72,357.29 L180.12,358.99 L180.52,357.60 L180.92,356.89 L181.32,357.96 L181.73,357.98 L182.13,359.03 L182.53,357.93 L182.93,358.11 L183.33,358.44 L183.73,358.96 L184.13,358.16 L184.54,358.74 L184.94,358.50 L185.34,358.12 L185.74,358.33 L186.14,358.33 L186.54,357.88 L186.94,358.96 L187.35,357.69 L187.75,358.99 L188.15,358.90 L188.55,358.40 L188.95,358.09 L189.35,358.38 L189.75,358.75 L190.16,358.91 L190.56,358.70 L190.96,359.07 L191.36,358.32 L191.76,358.74 L192.16,357.86 L192.56,359.04 L192.96,358.76 L193.37,358.49 L193.77,359.30 L194.17,359.09 L194.57,357.35 L194.97,358.80 L195.37,358.07 L195.77,359.35 L196.18,360.08 L196.58,358.59 L196.98,358.91 L197.38,358.76 L197.78,359.08 L198.18,359.24 L198.58,359.58 L198.99,358.46 L199.39,359.76 L199.79,358.52 L200.19,359.14 L200.59,359.60 L200.99,359.39 L201.39,358.58 L201.80,358.71 L202.20,358.84 L202.60,359.06 L203.00,359.67" fill="none" stroke="#1b5f8c" stroke-width="1.7" stroke-linejoin="round"/>
<path d="M31.00,354.15 L31.40,354.42 L31.80,353.88 L32.20,353.26 L32.60,352.65 L33.00,352.64 L33.41,351.63 L33.81,351.38 L34.21,350.85 L34.61,351.16 L35.01,349.06 L35.41,350.40 L35.81,349.38 L36.21,349.14 L36.61,348.57 L37.01,347.90 L37.41,348.44 L37.82,348.10 L38.22,348.51 L38.62,347.36 L39.02,348.67 L39.42,347.96 L39.82,347.59 L40.22,347.27 L40.62,347.17 L41.02,346.95 L41.42,347.23 L41.83,347.52 L42.23,347.48 L42.63,346.95 L43.03,347.63 L43.43,347.43 L43.83,348.08 L44.23,349.04 L44.63,348.52 L45.03,348.11 L45.43,347.49 L45.83,347.58 L46.24,347.40 L46.64,348.53 L47.04,347.69 L47.44,347.98 L47.84,347.48 L48.24,347.67 L48.64,348.13 L49.04,346.88 L49.44,346.83 L49.84,346.36 L50.24,346.95 L50.65,345.74 L51.05,345.43 L51.45,345.03 L51.85,344.75 L52.25,345.42 L52.65,346.20 L53.05,344.16 L53.45,344.87 L53.85,344.27 L54.25,343.36 L54.66,343.54 L55.06,343.35 L55.46,342.92 L55.86,344.02 L56.26,341.89 L56.66,342.82 L57.06,342.58 L57.46,341.91 L57.86,342.05 L58.26,342.20 L58.66,341.62 L59.07,341.53 L59.47,341.44 L59.87,339.86 L60.27,341.39 L60.67,341.57 L61.07,340.70 L61.47,340.50 L61.87,339.07 L62.27,339.50 L62.67,338.94 L63.07,338.83 L63.48,339.40 L63.88,338.30 L64.28,338.43 L64.68,337.33 L65.08,338.01 L65.48,337.93 L65.88,337.33 L66.28,337.13 L66.68,338.24 L67.08,336.51 L67.48,336.40 L67.89,336.35 L68.29,337.18 L68.69,337.46 L69.09,336.42 L69.49,335.74 L69.89,335.73 L70.29,336.33 L70.69,335.19 L71.09,336.22 L71.49,336.06 L71.90,335.23 L72.30,335.36 L72.70,335.25 L73.10,335.48 L73.50,333.99 L73.90,334.92 L74.30,333.94 L74.70,333.53 L75.10,333.75 L75.50,333.37 L75.90,332.76 L76.31,332.24 L76.71,332.34 L77.11,333.32 L77.51,333.37 L77.91,332.51 L78.31,332.58 L78.71,331.54 L79.11,331.59 L79.51,331.61 L79.91,330.78 L80.31,330.68 L80.72,331.08 L81.12,330.72 L81.52,330.20 L81.92,330.78 L82.32,330.31 L82.72,330.80 L83.12,330.15 L83.52,329.86 L83.92,329.93 L84.32,329.65 L84.72,329.27 L85.13,329.28 L85.53,329.73 L85.93,329.57 L86.33,329.78 L86.73,328.20 L87.13,328.76 L87.53,328.66 L87.93,328.88 L88.33,328.51 L88.73,328.43 L89.14,329.04 L89.54,328.71 L89.94,328.02 L90.34,329.27 L90.74,329.10 L91.14,328.32 L91.54,329.04 L91.94,328.27 L92.34,329.21 L92.74,328.56 L93.14,328.29 L93.55,328.53 L93.95,328.36 L94.35,328.87 L94.75,328.90 L95.15,328.86 L95.55,328.60 L95.95,327.09 L96.35,329.01 L96.75,328.05 L97.15,329.17 L97.55,329.65 L97.96,329.27 L98.36,328.98 L98.76,329.13 L99.16,329.20 L99.56,329.04 L99.96,329.08 L100.36,328.97 L100.76,330.09 L101.16,329.57 L101.56,330.13 L101.97,329.61 L102.37,329.86 L102.77,329.84 L103.17,330.26 L103.57,330.54 L103.97,330.36 L104.37,330.02 L104.77,330.08 L105.17,331.43 L105.57,330.59 L105.97,330.71 L106.38,331.73 L106.78,331.67 L107.18,331.54 L107.58,331.22 L107.98,332.74 L108.38,331.91 L108.78,332.14 L109.18,331.93 L109.58,331.47 L109.98,331.67 L110.38,332.70 L110.79,332.88 L111.19,332.76 L111.59,332.49 L111.99,332.58 L112.39,333.36 L112.79,333.03 L113.19,334.45 L113.59,334.83 L113.99,335.92 L114.39,335.21 L114.79,334.74 L115.20,334.87 L115.60,333.86 L116.00,335.56 L116.40,336.05 L116.80,336.90 L117.20,337.00 L117.60,337.27 L118.00,337.36 L118.40,337.86 L118.80,338.53 L119.21,337.54 L119.61,338.11 L120.01,337.92 L120.41,339.70 L120.81,339.82 L121.21,339.83 L121.61,339.15 L122.01,340.12 L122.41,340.21 L122.81,340.66 L123.21,340.82 L123.62,341.47 L124.02,341.31 L124.42,342.23 L124.82,342.21 L125.22,342.24 L125.62,342.63 L126.02,342.76 L126.42,343.67 L126.82,343.42 L127.22,343.99 L127.62,343.93 L128.03,343.67 L128.43,345.14 L128.83,344.44 L129.23,345.59 L129.63,345.75 L130.03,345.00 L130.43,345.64 L130.83,346.15 L131.23,346.28 L131.63,346.39 L132.03,347.65 L132.44,347.44 L132.84,348.04 L133.24,347.92 L133.64,348.57 L134.04,348.32 L134.44,348.96 L134.84,349.54 L135.24,349.54 L135.64,349.55 L136.04,349.49 L136.45,350.37 L136.85,350.70 L137.25,350.63 L137.65,350.61 L138.05,351.48 L138.45,352.66 L138.85,351.47 L139.25,351.99 L139.65,352.21 L140.05,350.92 L140.45,352.46 L140.86,352.23 L141.26,353.46 L141.66,352.82 L142.06,352.73 L142.46,353.19 L142.86,353.55 L143.26,353.36 L143.66,353.78 L144.06,353.29 L144.46,354.01 L144.86,354.67 L145.27,355.42 L145.67,354.94 L146.07,354.87 L146.47,355.47 L146.87,355.53 L147.27,355.99 L147.67,355.83 L148.07,355.36 L148.47,355.67 L148.87,355.76 L149.28,355.94 L149.68,356.01 L150.08,355.63 L150.48,355.08 L150.88,355.91 L151.28,355.34 L151.68,356.49 L152.08,356.57 L152.48,355.83 L152.88,357.12 L153.28,357.31 L153.69,357.02 L154.09,357.90 L154.49,358.10 L154.89,356.66 L155.29,357.87 L155.69,357.66 L156.09,357.74 L156.49,358.08 L156.89,357.34 L157.29,357.49 L157.69,357.45 L158.10,357.57 L158.50,357.97 L158.90,357.37 L159.30,357.65 L159.70,358.53 L160.10,358.28 L160.50,358.57 L160.90,357.50 L161.30,358.12 L161.70,358.29 L162.10,358.65 L162.51,358.40 L162.91,359.21 L163.31,358.78 L163.71,358.87 L164.11,358.92 L164.51,359.33 L164.91,358.79 L165.31,359.65 L165.71,359.37 L166.11,359.27 L166.52,359.27 L166.92,359.56 L167.32,359.86 L167.72,359.87 L168.12,359.64 L168.52,359.94 L168.92,359.61 L169.32,360.22 L169.72,359.63 L170.12,358.66 L170.52,360.41 L170.93,359.84 L171.33,359.25 L171.73,359.78 L172.13,359.48 L172.53,361.01 L172.93,360.26 L173.33,359.26 L173.73,360.36 L174.13,359.93 L174.53,361.13 L174.93,359.68 L175.34,359.12 L175.74,360.32 L176.14,360.15 L176.54,360.15 L176.94,359.32 L177.34,360.64 L177.74,361.30 L178.14,359.54 L178.54,361.11 L178.94,360.27 L179.34,361.76 L179.75,360.83 L180.15,360.55 L180.55,361.22 L180.95,360.96 L181.35,360.43 L181.75,361.10 L182.15,360.52 L182.55,359.90 L182.95,361.84 L183.35,360.67 L183.76,360.56 L184.16,361.06 L184.56,360.13 L184.96,360.26 L185.36,360.71 L185.76,360.72 L186.16,361.04 L186.56,361.58 L186.96,360.81 L187.36,361.31 L187.76,361.39 L188.17,360.57 L188.57,361.24 L188.97,360.68 L189.37,361.70 L189.77,361.42 L190.17,361.22 L190.57,360.56 L190.97,361.31 L191.37,360.88 L191.77,361.64 L192.17,361.24 L192.58,360.91 L192.98,361.80 L193.38,361.72 L193.78,361.08 L194.18,361.97 L194.58,361.25 L194.98,361.26 L195.38,361.49 L195.78,361.07 L196.18,361.24 L196.59,361.39 L196.99,362.25 L197.39,362.25 L197.79,361.38 L198.19,362.33 L198.59,361.51 L198.99,361.73 L199.39,361.99 L199.79,361.70 L200.19,362.77 L200.59,361.69 L201.00,360.98 L201.40,362.24 L201.80,361.38 L202.20,361.44 L202.60,360.10 L203.00,362.10" fill="none" stroke="#0b2438" stroke-width="2.0" stroke-linejoin="round"/>
<line x1="198" y1="34" x2="198" y2="51.5" stroke="#333" stroke-width="1.2"/>
<line x1="196.1" y1="34" x2="199.9" y2="34" stroke="#222" stroke-width="1.2"/>
<line x1="196.1" y1="51.5" x2="199.9" y2="51.5" stroke="#222" stroke-width="1.2"/>
<line x1="198" y1="242.5" x2="198" y2="259.9" stroke="#333" stroke-width="1.2"/>
<line x1="196.1" y1="242.5" x2="199.9" y2="242.5" stroke="#222" stroke-width="1.2"/>
<line x1="196.1" y1="259.9" x2="199.9" y2="259.9" stroke="#222" stroke-width="1.2"/>
<text x="33.5" y="44.5" font-size="12.5" fill="#d0404f" font-weight="normal" text-anchor="start" >3.7CA</text>
<text x="33.5" y="253" font-size="12.5" fill="#1d3d5a" font-weight="normal" text-anchor="start" >7.3CA</text>
<text x="45" y="129.9" font-size="12.4" font-weight="normal"><tspan dy="0.00" fill="#333333">C</tspan><tspan dy="-5.60" font-size="11" fill="#cc1a20">16</tspan><tspan dy="5.60" fill="#cc1a20">O</tspan><tspan dy="-5.60" font-size="11" fill="#cc1a20">16</tspan><tspan dy="5.60" fill="#cc1a20">O</tspan></text>
<text x="50.3" y="175.4" font-size="12.4" font-weight="normal"><tspan dy="0.00" fill="#333333">C</tspan><tspan dy="-5.60" font-size="11" fill="#cc1a20">16</tspan><tspan dy="5.60" fill="#cc1a20">O</tspan><tspan dy="-5.60" font-size="11" fill="#2a86cc">18</tspan><tspan dy="5.60" fill="#2a86cc">O</tspan></text>
<text x="149.4" y="212.2" font-size="12.4" font-weight="normal"><tspan dy="0.00" fill="#333333">C</tspan><tspan dy="-5.60" font-size="11" fill="#2a86cc">18</tspan><tspan dy="5.60" fill="#2a86cc">O</tspan><tspan dy="-5.60" font-size="11" fill="#2a86cc">18</tspan><tspan dy="5.60" fill="#2a86cc">O</tspan></text>
<text x="34.6" y="322.6" font-size="12.4" font-weight="normal"><tspan dy="0.00" fill="#333333">C</tspan><tspan dy="-5.60" font-size="11" fill="#cc1a20">16</tspan><tspan dy="5.60" fill="#cc1a20">O</tspan><tspan dy="-5.60" font-size="11" fill="#cc1a20">16</tspan><tspan dy="5.60" fill="#cc1a20">O</tspan></text>
<text x="48" y="375.6" font-size="12.4" font-weight="normal"><tspan dy="0.00" fill="#333333">C</tspan><tspan dy="-5.60" font-size="11" fill="#cc1a20">16</tspan><tspan dy="5.60" fill="#cc1a20">O</tspan><tspan dy="-5.60" font-size="11" fill="#2a86cc">18</tspan><tspan dy="5.60" fill="#2a86cc">O</tspan></text>
<text x="148.8" y="418.1" font-size="12.4" font-weight="normal"><tspan dy="0.00" fill="#333333">C</tspan><tspan dy="-5.60" font-size="11" fill="#2a86cc">18</tspan><tspan dy="5.60" fill="#2a86cc">O</tspan><tspan dy="-5.60" font-size="11" fill="#2a86cc">18</tspan><tspan dy="5.60" fill="#2a86cc">O</tspan></text>
<line x1="243" y1="31.5" x2="243" y2="451.1" stroke="#8a8a8a" stroke-width="1.5"/>
<line x1="415" y1="31.5" x2="415" y2="447.6" stroke="#8a8a8a" stroke-width="1.5"/>
<line x1="242.25" y1="31.5" x2="415.75" y2="31.5" stroke="#555" stroke-width="1.15"/>
<line x1="243" y1="239.5" x2="415" y2="239.5" stroke="#3a3a3a" stroke-width="1.6"/>
<line x1="243" y1="447.6" x2="415.75" y2="447.6" stroke="#8a8a8a" stroke-width="1.5"/>
<line x1="269.46" y1="239.5" x2="269.46" y2="237.3" stroke="#3a3a3a" stroke-width="1"/>
<line x1="269.46" y1="447.6" x2="269.46" y2="449.8" stroke="#3a3a3a" stroke-width="1"/>
<line x1="295.92" y1="239.5" x2="295.92" y2="235.9" stroke="#3a3a3a" stroke-width="1"/>
<line x1="295.92" y1="447.6" x2="295.92" y2="451.20000000000005" stroke="#3a3a3a" stroke-width="1"/>
<line x1="322.38" y1="239.5" x2="322.38" y2="237.3" stroke="#3a3a3a" stroke-width="1"/>
<line x1="322.38" y1="447.6" x2="322.38" y2="449.8" stroke="#3a3a3a" stroke-width="1"/>
<line x1="348.85" y1="239.5" x2="348.85" y2="235.9" stroke="#3a3a3a" stroke-width="1"/>
<line x1="348.85" y1="447.6" x2="348.85" y2="451.20000000000005" stroke="#3a3a3a" stroke-width="1"/>
<line x1="375.31" y1="239.5" x2="375.31" y2="237.3" stroke="#3a3a3a" stroke-width="1"/>
<line x1="375.31" y1="447.6" x2="375.31" y2="449.8" stroke="#3a3a3a" stroke-width="1"/>
<line x1="401.77" y1="239.5" x2="401.77" y2="235.9" stroke="#3a3a3a" stroke-width="1"/>
<line x1="401.77" y1="447.6" x2="401.77" y2="451.20000000000005" stroke="#3a3a3a" stroke-width="1"/>
<text x="243.00" y="462.5" font-size="10.5" fill="#222" font-weight="normal" text-anchor="middle" >0</text>
<text x="295.92" y="462.5" font-size="10.5" fill="#222" font-weight="normal" text-anchor="middle" >2000</text>
<text x="348.85" y="462.5" font-size="10.5" fill="#222" font-weight="normal" text-anchor="middle" >4000</text>
<text x="401.77" y="462.5" font-size="10.5" fill="#222" font-weight="normal" text-anchor="middle" >6000</text>
<text x="329.00" y="478.2" font-size="16" fill="#111" font-weight="normal" text-anchor="middle" >Time (s)</text>
<path d="M243.00,237.36 L243.40,237.09 L243.80,236.86 L244.20,236.74 L244.60,236.14 L245.00,236.08 L245.41,235.49 L245.81,235.31 L246.21,235.35 L246.61,234.97 L247.01,234.38 L247.41,234.48 L247.81,234.14 L248.21,233.78 L248.61,233.80 L249.01,233.41 L249.41,232.96 L249.82,232.83 L250.22,233.20 L250.62,232.33 L251.02,232.47 L251.42,232.35 L251.82,232.15 L252.22,231.58 L252.62,231.57 L253.02,231.46 L253.42,231.40 L253.83,230.92 L254.23,230.62 L254.63,230.86 L255.03,230.69 L255.43,230.35 L255.83,229.96 L256.23,229.96 L256.63,229.71 L257.03,229.65 L257.43,229.03 L257.83,229.09 L258.24,228.82 L258.64,228.41 L259.04,228.46 L259.44,228.21 L259.84,227.90 L260.24,227.84 L260.64,227.27 L261.04,227.33 L261.44,227.22 L261.84,226.98 L262.24,226.94 L262.65,226.29 L263.05,226.05 L263.45,226.22 L263.85,226.09 L264.25,226.26 L264.65,225.81 L265.05,225.37 L265.45,225.57 L265.85,225.11 L266.25,224.85 L266.66,225.54 L267.06,224.95 L267.46,224.91 L267.86,224.76 L268.26,224.89 L268.66,224.47 L269.06,224.54 L269.46,223.99 L269.86,223.81 L270.26,224.28 L270.66,224.19 L271.07,223.91 L271.47,223.76 L271.87,223.67 L272.27,223.42 L272.67,223.79 L273.07,223.55 L273.47,223.46 L273.87,223.37 L274.27,223.45 L274.67,223.28 L275.07,223.27 L275.48,222.83 L275.88,223.11 L276.28,223.39 L276.68,222.80 L277.08,222.82 L277.48,222.98 L277.88,222.94 L278.28,222.83 L278.68,222.33 L279.08,222.71 L279.48,222.32 L279.89,222.35 L280.29,222.58 L280.69,222.37 L281.09,222.55 L281.49,222.98 L281.89,222.46 L282.29,222.41 L282.69,222.05 L283.09,222.06 L283.49,221.94 L283.90,222.01 L284.30,221.87 L284.70,221.92 L285.10,221.98 L285.50,221.79 L285.90,221.67 L286.30,221.65 L286.70,221.99 L287.10,221.88 L287.50,222.05 L287.90,222.02 L288.31,221.72 L288.71,221.90 L289.11,221.45 L289.51,222.17 L289.91,221.93 L290.31,221.63 L290.71,221.42 L291.11,221.70 L291.51,221.23 L291.91,221.43 L292.31,221.71 L292.72,221.56 L293.12,221.42 L293.52,221.69 L293.92,221.27 L294.32,221.52 L294.72,221.34 L295.12,221.25 L295.52,221.49 L295.92,221.18 L296.32,221.74 L296.72,221.23 L297.13,221.72 L297.53,221.09 L297.93,221.41 L298.33,221.03 L298.73,220.99 L299.13,221.27 L299.53,221.36 L299.93,220.95 L300.33,221.42 L300.73,221.01 L301.14,221.18 L301.54,221.21 L301.94,221.24 L302.34,220.75 L302.74,221.41 L303.14,221.19 L303.54,220.97 L303.94,220.84 L304.34,220.69 L304.74,220.74 L305.14,221.11 L305.55,220.92 L305.95,220.75 L306.35,220.85 L306.75,221.26 L307.15,220.87 L307.55,220.80 L307.95,221.18 L308.35,220.99 L308.75,220.89 L309.15,220.75 L309.55,220.55 L309.96,220.61 L310.36,220.74 L310.76,220.78 L311.16,220.88 L311.56,220.91 L311.96,220.83 L312.36,220.82 L312.76,220.56 L313.16,220.32 L313.56,220.64 L313.97,220.54 L314.37,220.59 L314.77,220.66 L315.17,220.46 L315.57,220.47 L315.97,220.67 L316.37,220.70 L316.77,220.54 L317.17,220.76 L317.57,220.61 L317.97,220.44 L318.38,220.64 L318.78,221.00 L319.18,220.48 L319.58,220.84 L319.98,220.88 L320.38,220.89 L320.78,220.42 L321.18,220.98 L321.58,220.59 L321.98,220.51 L322.38,220.51 L322.79,220.67 L323.19,220.55 L323.59,220.50 L323.99,220.78 L324.39,220.37 L324.79,220.30 L325.19,220.66 L325.59,220.63 L325.99,220.70 L326.39,220.26 L326.79,220.69 L327.20,220.56 L327.60,220.81 L328.00,220.20 L328.40,220.48 L328.80,220.38 L329.20,220.11 L329.60,220.28 L330.00,220.64 L330.40,220.31 L330.80,220.25 L331.21,220.56 L331.61,220.58 L332.01,220.57 L332.41,220.21 L332.81,220.35 L333.21,220.56 L333.61,220.21 L334.01,220.19 L334.41,220.50 L334.81,220.64 L335.21,220.09 L335.62,219.79 L336.02,220.01 L336.42,220.09 L336.82,220.26 L337.22,220.41 L337.62,220.25 L338.02,220.13 L338.42,220.29 L338.82,220.06 L339.22,220.24 L339.62,220.11 L340.03,220.77 L340.43,220.39 L340.83,220.05 L341.23,220.01 L341.63,220.12 L342.03,219.87 L342.43,220.05 L342.83,220.04 L343.23,220.36 L343.63,220.09 L344.03,220.01 L344.44,219.89 L344.84,219.92 L345.24,220.13 L345.64,220.10 L346.04,220.36 L346.44,220.00 L346.84,220.33 L347.24,220.16 L347.64,220.11 L348.04,219.70 L348.45,219.84 L348.85,220.24 L349.25,220.36 L349.65,220.12 L350.05,220.22 L350.45,219.98 L350.85,219.98 L351.25,219.92 L351.65,220.24 L352.05,220.11 L352.45,219.98 L352.86,219.96 L353.26,220.13 L353.66,220.08 L354.06,219.84 L354.46,220.34 L354.86,220.05 L355.26,219.99 L355.66,220.28 L356.06,220.18 L356.46,219.95 L356.86,220.07 L357.27,219.75 L357.67,219.83 L358.07,219.50 L358.47,220.19 L358.87,219.56 L359.27,220.07 L359.67,219.76 L360.07,219.72 L360.47,219.87 L360.87,219.96 L361.28,220.03 L361.68,220.25 L362.08,219.96 L362.48,220.06 L362.88,219.76 L363.28,220.02 L363.68,219.90 L364.08,219.77 L364.48,219.84 L364.88,219.84 L365.28,219.89 L365.69,219.92 L366.09,219.74 L366.49,219.69 L366.89,219.98 L367.29,219.48 L367.69,219.69 L368.09,220.12 L368.49,219.27 L368.89,219.66 L369.29,219.94 L369.69,219.46 L370.10,220.31 L370.50,219.27 L370.90,220.07 L371.30,220.09 L371.70,219.95 L372.10,219.72 L372.50,219.83 L372.90,219.58 L373.30,219.91 L373.70,219.52 L374.10,219.69 L374.51,219.94 L374.91,219.51 L375.31,219.66 L375.71,219.76 L376.11,219.45 L376.51,219.95 L376.91,219.78 L377.31,219.40 L377.71,219.69 L378.11,219.54 L378.52,219.56 L378.92,219.71 L379.32,219.55 L379.72,219.88 L380.12,219.54 L380.52,219.87 L380.92,219.66 L381.32,219.84 L381.72,219.56 L382.12,219.56 L382.52,219.43 L382.93,219.77 L383.33,219.84 L383.73,220.07 L384.13,219.90 L384.53,219.69 L384.93,219.59 L385.33,219.71 L385.73,219.62 L386.13,219.92 L386.53,219.81 L386.93,219.45 L387.34,219.48 L387.74,219.89 L388.14,219.67 L388.54,219.56 L388.94,219.84 L389.34,219.52 L389.74,219.54 L390.14,219.50 L390.54,219.20 L390.94,219.76 L391.34,219.34 L391.75,219.47 L392.15,219.43 L392.55,219.72 L392.95,219.56 L393.35,219.57 L393.75,219.23 L394.15,219.55 L394.55,219.27 L394.95,219.62 L395.35,219.63 L395.76,219.55 L396.16,219.96 L396.56,219.66 L396.96,219.67 L397.36,219.58 L397.76,219.51 L398.16,219.74 L398.56,219.76 L398.96,219.28 L399.36,219.75 L399.76,219.64 L400.17,219.73 L400.57,219.63 L400.97,219.28 L401.37,219.29 L401.77,219.89 L402.17,219.58 L402.57,219.24 L402.97,219.59 L403.37,219.45 L403.77,219.15 L404.17,219.06 L404.58,219.20 L404.98,219.57 L405.38,219.51 L405.78,219.46 L406.18,219.57 L406.58,219.63 L406.98,219.09 L407.38,219.45 L407.78,219.34 L408.18,219.26 L408.59,219.40 L408.99,219.48 L409.39,219.45 L409.79,219.21 L410.19,219.41 L410.59,219.91 L410.99,219.29 L411.39,219.16 L411.79,219.56 L412.19,219.62 L412.59,219.59 L413.00,219.28 L413.40,219.70 L413.80,219.34 L414.20,219.27 L414.60,219.38 L415.00,219.48" fill="none" stroke="#d4566a" stroke-width="1.2" stroke-linejoin="round"/>
<path d="M243.00,113.86 L243.40,114.15 L243.80,114.27 L244.20,115.29 L244.60,115.54 L245.00,116.73 L245.41,116.46 L245.81,117.32 L246.21,119.49 L246.61,119.47 L247.01,121.23 L247.41,122.68 L247.81,123.94 L248.21,125.47 L248.61,127.93 L249.01,127.49 L249.41,130.66 L249.82,132.74 L250.22,132.96 L250.62,134.30 L251.02,136.02 L251.42,137.91 L251.82,137.69 L252.22,139.58 L252.62,140.63 L253.02,142.12 L253.42,143.01 L253.83,144.34 L254.23,144.86 L254.63,146.12 L255.03,146.75 L255.43,147.68 L255.83,148.81 L256.23,149.60 L256.63,149.80 L257.03,151.82 L257.43,151.59 L257.83,151.56 L258.24,153.37 L258.64,153.00 L259.04,154.16 L259.44,154.40 L259.84,155.02 L260.24,155.45 L260.64,155.52 L261.04,156.26 L261.44,157.66 L261.84,155.91 L262.24,157.43 L262.65,157.96 L263.05,157.55 L263.45,157.71 L263.85,159.77 L264.25,158.79 L264.65,160.29 L265.05,159.78 L265.45,159.81 L265.85,160.25 L266.25,160.56 L266.66,161.06 L267.06,160.91 L267.46,160.98 L267.86,161.21 L268.26,162.01 L268.66,161.94 L269.06,161.24 L269.46,161.63 L269.86,162.32 L270.26,162.05 L270.66,162.39 L271.07,162.31 L271.47,162.88 L271.87,163.44 L272.27,163.95 L272.67,163.68 L273.07,164.94 L273.47,164.09 L273.87,165.94 L274.27,165.07 L274.67,165.04 L275.07,164.75 L275.48,163.81 L275.88,165.35 L276.28,165.72 L276.68,166.80 L277.08,165.34 L277.48,167.17 L277.88,166.28 L278.28,166.94 L278.68,165.48 L279.08,166.97 L279.48,166.88 L279.89,167.54 L280.29,167.37 L280.69,166.89 L281.09,168.06 L281.49,168.06 L281.89,168.13 L282.29,168.45 L282.69,168.61 L283.09,168.16 L283.49,167.60 L283.90,167.69 L284.30,169.17 L284.70,168.95 L285.10,168.74 L285.50,168.57 L285.90,168.90 L286.30,168.98 L286.70,168.89 L287.10,168.80 L287.50,170.32 L287.90,169.43 L288.31,169.10 L288.71,168.83 L289.11,169.20 L289.51,170.00 L289.91,170.10 L290.31,169.69 L290.71,169.90 L291.11,169.80 L291.51,169.47 L291.91,170.75 L292.31,170.36 L292.72,171.49 L293.12,169.95 L293.52,170.33 L293.92,170.91 L294.32,170.42 L294.72,169.92 L295.12,170.21 L295.52,170.80 L295.92,170.99 L296.32,170.84 L296.72,171.46 L297.13,171.52 L297.53,171.25 L297.93,171.16 L298.33,171.09 L298.73,171.55 L299.13,171.79 L299.53,171.42 L299.93,171.68 L300.33,171.35 L300.73,170.86 L301.14,171.12 L301.54,172.06 L301.94,171.95 L302.34,172.57 L302.74,171.85 L303.14,172.30 L303.54,172.58 L303.94,172.46 L304.34,171.70 L304.74,171.95 L305.14,172.15 L305.55,171.63 L305.95,172.40 L306.35,172.71 L306.75,171.99 L307.15,173.25 L307.55,172.15 L307.95,172.22 L308.35,172.24 L308.75,172.03 L309.15,172.62 L309.55,172.46 L309.96,173.30 L310.36,172.81 L310.76,172.80 L311.16,172.45 L311.56,171.88 L311.96,172.56 L312.36,172.21 L312.76,173.13 L313.16,172.67 L313.56,173.54 L313.97,173.10 L314.37,173.17 L314.77,172.89 L315.17,172.90 L315.57,173.14 L315.97,173.29 L316.37,172.50 L316.77,173.12 L317.17,174.20 L317.57,172.86 L317.97,172.80 L318.38,172.59 L318.78,172.23 L319.18,173.57 L319.58,173.02 L319.98,173.15 L320.38,173.94 L320.78,174.28 L321.18,172.60 L321.58,173.58 L321.98,173.38 L322.38,173.28 L322.79,173.33 L323.19,173.10 L323.59,173.92 L323.99,173.44 L324.39,173.32 L324.79,173.79 L325.19,173.62 L325.59,173.42 L325.99,173.37 L326.39,174.09 L326.79,173.48 L327.20,173.20 L327.60,172.83 L328.00,173.10 L328.40,172.76 L328.80,173.35 L329.20,173.44 L329.60,172.29 L330.00,173.34 L330.40,173.67 L330.80,173.44 L331.21,172.89 L331.61,174.02 L332.01,173.05 L332.41,172.80 L332.81,172.88 L333.21,173.43 L333.61,173.94 L334.01,174.04 L334.41,173.58 L334.81,172.89 L335.21,173.17 L335.62,173.06 L336.02,173.43 L336.42,172.65 L336.82,173.60 L337.22,173.88 L337.62,173.50 L338.02,173.81 L338.42,173.13 L338.82,172.88 L339.22,173.30 L339.62,174.21 L340.03,174.16 L340.43,173.43 L340.83,174.27 L341.23,173.52 L341.63,174.45 L342.03,173.94 L342.43,173.49 L342.83,174.12 L343.23,173.35 L343.63,173.28 L344.03,173.03 L344.44,173.90 L344.84,173.76 L345.24,173.76 L345.64,173.60 L346.04,174.54 L346.44,173.62 L346.84,173.48 L347.24,174.47 L347.64,174.57 L348.04,174.04 L348.45,173.01 L348.85,173.60 L349.25,174.21 L349.65,173.93 L350.05,174.71 L350.45,173.26 L350.85,174.29 L351.25,173.65 L351.65,174.63 L352.05,173.94 L352.45,174.51 L352.86,173.68 L353.26,173.31 L353.66,173.47 L354.06,173.73 L354.46,173.53 L354.86,174.66 L355.26,174.74 L355.66,174.21 L356.06,173.57 L356.46,174.04 L356.86,173.76 L357.27,174.84 L357.67,174.28 L358.07,174.38 L358.47,173.95 L358.87,173.15 L359.27,173.78 L359.67,173.62 L360.07,174.37 L360.47,174.24 L360.87,173.80 L361.28,174.02 L361.68,175.01 L362.08,173.75 L362.48,173.78 L362.88,174.14 L363.28,173.91 L363.68,174.06 L364.08,174.54 L364.48,175.15 L364.88,173.41 L365.28,174.30 L365.69,174.34 L366.09,174.28 L366.49,174.24 L366.89,174.17 L367.29,174.85 L367.69,174.13 L368.09,174.30 L368.49,174.38 L368.89,174.44 L369.29,174.31 L369.69,174.90 L370.10,174.40 L370.50,174.50 L370.90,174.40 L371.30,173.93 L371.70,174.03 L372.10,173.92 L372.50,174.55 L372.90,174.11 L373.30,173.94 L373.70,174.60 L374.10,174.75 L374.51,173.62 L374.91,175.35 L375.31,174.53 L375.71,174.47 L376.11,175.06 L376.51,174.57 L376.91,174.24 L377.31,175.64 L377.71,174.02 L378.11,174.51 L378.52,174.99 L378.92,174.04 L379.32,174.53 L379.72,174.78 L380.12,175.80 L380.52,174.16 L380.92,174.58 L381.32,174.94 L381.72,174.66 L382.12,174.03 L382.52,174.84 L382.93,174.69 L383.33,174.87 L383.73,175.22 L384.13,175.17 L384.53,174.87 L384.93,174.83 L385.33,174.13 L385.73,174.62 L386.13,174.80 L386.53,174.49 L386.93,174.75 L387.34,174.29 L387.74,175.48 L388.14,175.79 L388.54,174.53 L388.94,174.93 L389.34,174.61 L389.74,175.37 L390.14,174.96 L390.54,174.78 L390.94,174.64 L391.34,174.82 L391.75,174.26 L392.15,175.10 L392.55,174.41 L392.95,175.04 L393.35,174.84 L393.75,175.33 L394.15,174.78 L394.55,175.30 L394.95,174.33 L395.35,175.10 L395.76,174.69 L396.16,174.90 L396.56,174.85 L396.96,175.28 L397.36,173.81 L397.76,174.98 L398.16,174.08 L398.56,175.43 L398.96,173.85 L399.36,174.33 L399.76,174.00 L400.17,175.66 L400.57,174.20 L400.97,174.90 L401.37,174.58 L401.77,173.95 L402.17,174.69 L402.57,175.19 L402.97,174.77 L403.37,175.33 L403.77,174.69 L404.17,174.87 L404.58,174.68 L404.98,175.04 L405.38,175.82 L405.78,175.06 L406.18,174.98 L406.58,174.57 L406.98,174.51 L407.38,175.62 L407.78,174.33 L408.18,174.43 L408.59,174.84 L408.99,174.68 L409.39,175.87 L409.79,173.71 L410.19,175.07 L410.59,175.25 L410.99,174.34 L411.39,174.57 L411.79,175.11 L412.19,175.71 L412.59,174.44 L413.00,174.11 L413.40,175.39 L413.80,175.66 L414.20,174.73 L414.60,173.79 L415.00,175.63" fill="none" stroke="#8c0000" stroke-width="1.8" stroke-linejoin="round"/>
<path d="M243.00,211.91 L243.40,210.43 L243.80,207.92 L244.20,205.89 L244.60,203.98 L245.00,203.02 L245.41,201.30 L245.81,198.18 L246.21,197.44 L246.61,197.50 L247.01,195.46 L247.41,194.02 L247.81,193.70 L248.21,192.76 L248.61,191.93 L249.01,190.95 L249.41,190.24 L249.82,189.40 L250.22,188.99 L250.62,187.73 L251.02,187.24 L251.42,186.60 L251.82,186.58 L252.22,185.52 L252.62,184.70 L253.02,184.42 L253.42,183.85 L253.83,183.68 L254.23,182.99 L254.63,183.17 L255.03,182.58 L255.43,181.58 L255.83,181.07 L256.23,181.32 L256.63,180.84 L257.03,180.27 L257.43,179.38 L257.83,178.96 L258.24,179.71 L258.64,179.68 L259.04,179.49 L259.44,178.35 L259.84,179.21 L260.24,178.31 L260.64,178.55 L261.04,178.38 L261.44,177.66 L261.84,177.59 L262.24,176.77 L262.65,177.13 L263.05,176.59 L263.45,177.45 L263.85,177.14 L264.25,177.39 L264.65,177.02 L265.05,176.45 L265.45,176.77 L265.85,176.33 L266.25,176.67 L266.66,176.44 L267.06,175.76 L267.46,176.11 L267.86,176.05 L268.26,175.81 L268.66,176.27 L269.06,176.57 L269.46,175.56 L269.86,175.49 L270.26,174.57 L270.66,175.46 L271.07,175.25 L271.47,174.41 L271.87,175.45 L272.27,175.53 L272.67,174.88 L273.07,174.98 L273.47,174.66 L273.87,175.39 L274.27,174.32 L274.67,174.81 L275.07,175.79 L275.48,174.89 L275.88,175.04 L276.28,174.73 L276.68,174.23 L277.08,174.71 L277.48,174.88 L277.88,174.21 L278.28,174.79 L278.68,175.17 L279.08,175.07 L279.48,173.85 L279.89,174.10 L280.29,173.79 L280.69,174.97 L281.09,174.74 L281.49,174.76 L281.89,174.03 L282.29,173.88 L282.69,174.42 L283.09,174.41 L283.49,173.96 L283.90,174.39 L284.30,174.60 L284.70,174.40 L285.10,173.81 L285.50,173.31 L285.90,174.13 L286.30,174.30 L286.70,174.10 L287.10,174.01 L287.50,173.87 L287.90,174.49 L288.31,174.13 L288.71,174.19 L289.11,173.69 L289.51,173.83 L289.91,174.17 L290.31,173.63 L290.71,173.50 L291.11,173.90 L291.51,174.58 L291.91,174.11 L292.31,174.67 L292.72,173.93 L293.12,173.84 L293.52,173.34 L293.92,173.69 L294.32,174.58 L294.72,174.07 L295.12,174.24 L295.52,174.21 L295.92,173.87 L296.32,173.77 L296.72,173.90 L297.13,174.13 L297.53,174.02 L297.93,174.02 L298.33,173.86 L298.73,173.43 L299.13,173.64 L299.53,173.32 L299.93,174.18 L300.33,172.77 L300.73,173.60 L301.14,174.76 L301.54,173.52 L301.94,173.15 L302.34,173.64 L302.74,174.21 L303.14,173.55 L303.54,173.88 L303.94,173.64 L304.34,173.41 L304.74,174.99 L305.14,173.59 L305.55,173.30 L305.95,173.31 L306.35,173.69 L306.75,173.69 L307.15,173.85 L307.55,173.55 L307.95,172.83 L308.35,173.71 L308.75,173.32 L309.15,173.32 L309.55,172.77 L309.96,173.17 L310.36,173.09 L310.76,173.39 L311.16,172.75 L311.56,173.41 L311.96,173.44 L312.36,172.87 L312.76,173.09 L313.16,172.98 L313.56,173.76 L313.97,172.21 L314.37,173.19 L314.77,172.59 L315.17,173.14 L315.57,173.71 L315.97,173.04 L316.37,173.38 L316.77,172.93 L317.17,174.18 L317.57,173.72 L317.97,173.81 L318.38,172.71 L318.78,172.81 L319.18,173.79 L319.58,173.21 L319.98,173.18 L320.38,173.45 L320.78,172.74 L321.18,173.65 L321.58,173.31 L321.98,173.52 L322.38,173.00 L322.79,173.53 L323.19,172.98 L323.59,173.73 L323.99,173.81 L324.39,173.71 L324.79,173.53 L325.19,173.59 L325.59,172.08 L325.99,173.68 L326.39,173.18 L326.79,173.34 L327.20,173.17 L327.60,172.68 L328.00,173.06 L328.40,173.60 L328.80,173.94 L329.20,173.02 L329.60,172.90 L330.00,173.96 L330.40,172.91 L330.80,174.24 L331.21,173.33 L331.61,172.91 L332.01,173.75 L332.41,174.07 L332.81,172.66 L333.21,174.01 L333.61,173.18 L334.01,173.98 L334.41,173.14 L334.81,172.60 L335.21,173.53 L335.62,173.73 L336.02,174.25 L336.42,174.09 L336.82,173.62 L337.22,173.20 L337.62,173.08 L338.02,173.18 L338.42,172.94 L338.82,173.19 L339.22,172.17 L339.62,173.40 L340.03,173.30 L340.43,174.47 L340.83,173.66 L341.23,173.10 L341.63,173.58 L342.03,172.77 L342.43,173.05 L342.83,172.49 L343.23,173.97 L343.63,173.60 L344.03,172.80 L344.44,173.30 L344.84,173.76 L345.24,173.56 L345.64,173.51 L346.04,172.95 L346.44,173.05 L346.84,173.38 L347.24,173.76 L347.64,172.97 L348.04,172.84 L348.45,173.86 L348.85,172.93 L349.25,173.84 L349.65,173.46 L350.05,173.75 L350.45,174.14 L350.85,173.67 L351.25,173.71 L351.65,172.95 L352.05,173.05 L352.45,173.66 L352.86,174.06 L353.26,174.00 L353.66,174.42 L354.06,173.52 L354.46,173.47 L354.86,173.84 L355.26,173.40 L355.66,173.36 L356.06,172.92 L356.46,173.84 L356.86,172.92 L357.27,173.63 L357.67,172.77 L358.07,173.90 L358.47,172.95 L358.87,173.80 L359.27,172.71 L359.67,173.23 L360.07,173.96 L360.47,173.07 L360.87,173.47 L361.28,173.22 L361.68,172.40 L362.08,173.59 L362.48,173.65 L362.88,172.96 L363.28,173.72 L363.68,173.11 L364.08,173.02 L364.48,173.48 L364.88,173.17 L365.28,174.51 L365.69,172.79 L366.09,173.82 L366.49,173.94 L366.89,172.61 L367.29,172.73 L367.69,173.77 L368.09,173.30 L368.49,173.70 L368.89,174.04 L369.29,173.37 L369.69,173.06 L370.10,172.32 L370.50,173.64 L370.90,173.14 L371.30,173.70 L371.70,173.67 L372.10,172.95 L372.50,174.36 L372.90,174.07 L373.30,173.97 L373.70,173.07 L374.10,173.42 L374.51,173.37 L374.91,173.43 L375.31,173.12 L375.71,173.83 L376.11,173.74 L376.51,173.81 L376.91,173.43 L377.31,174.24 L377.71,173.75 L378.11,172.45 L378.52,173.40 L378.92,173.67 L379.32,174.14 L379.72,173.57 L380.12,173.60 L380.52,173.43 L380.92,174.03 L381.32,173.54 L381.72,173.48 L382.12,173.42 L382.52,174.02 L382.93,173.54 L383.33,173.03 L383.73,174.07 L384.13,173.49 L384.53,173.97 L384.93,173.99 L385.33,174.37 L385.73,174.31 L386.13,173.59 L386.53,173.79 L386.93,173.29 L387.34,174.64 L387.74,174.09 L388.14,174.53 L388.54,173.77 L388.94,173.00 L389.34,174.62 L389.74,173.99 L390.14,174.01 L390.54,173.99 L390.94,174.27 L391.34,174.23 L391.75,173.28 L392.15,174.50 L392.55,173.79 L392.95,173.82 L393.35,174.82 L393.75,174.47 L394.15,173.92 L394.55,173.25 L394.95,174.17 L395.35,174.35 L395.76,174.08 L396.16,173.57 L396.56,173.79 L396.96,173.60 L397.36,174.27 L397.76,174.56 L398.16,174.66 L398.56,173.88 L398.96,174.33 L399.36,174.49 L399.76,174.03 L400.17,174.20 L400.57,175.24 L400.97,174.39 L401.37,174.71 L401.77,174.13 L402.17,174.36 L402.57,173.59 L402.97,174.36 L403.37,174.93 L403.77,175.35 L404.17,174.96 L404.58,174.74 L404.98,174.48 L405.38,174.20 L405.78,174.41 L406.18,174.78 L406.58,174.16 L406.98,174.95 L407.38,174.11 L407.78,173.77 L408.18,174.13 L408.59,173.85 L408.99,174.00 L409.39,175.15 L409.79,174.56 L410.19,174.77 L410.59,175.21 L410.99,175.28 L411.39,174.50 L411.79,175.34 L412.19,174.94 L412.59,174.78 L413.00,175.00 L413.40,174.18 L413.80,174.49 L414.20,174.81 L414.60,175.15 L415.00,174.73" fill="none" stroke="#c8243a" stroke-width="1.6" stroke-linejoin="round"/>
<path d="M243.00,446.97 L243.40,447.17 L243.80,447.23 L244.20,447.07 L244.60,447.14 L245.00,446.78 L245.41,446.77 L245.81,446.87 L246.21,446.72 L246.61,446.65 L247.01,447.05 L247.41,446.65 L247.81,446.47 L248.21,446.74 L248.61,446.98 L249.01,446.60 L249.41,446.81 L249.82,446.45 L250.22,446.41 L250.62,446.35 L251.02,446.43 L251.42,446.80 L251.82,446.18 L252.22,446.71 L252.62,446.16 L253.02,446.29 L253.42,446.48 L253.83,446.42 L254.23,446.33 L254.63,445.92 L255.03,446.30 L255.43,446.00 L255.83,446.70 L256.23,446.12 L256.63,446.18 L257.03,445.90 L257.43,446.01 L257.83,445.83 L258.24,446.27 L258.64,446.00 L259.04,446.15 L259.44,445.88 L259.84,445.91 L260.24,446.25 L260.64,445.78 L261.04,445.60 L261.44,446.03 L261.84,445.70 L262.24,445.83 L262.65,446.09 L263.05,445.73 L263.45,446.05 L263.85,445.73 L264.25,446.15 L264.65,446.10 L265.05,445.73 L265.45,445.77 L265.85,445.63 L266.25,445.83 L266.66,446.00 L267.06,445.47 L267.46,445.93 L267.86,445.47 L268.26,445.56 L268.66,445.36 L269.06,446.13 L269.46,445.70 L269.86,445.73 L270.26,445.54 L270.66,445.87 L271.07,445.23 L271.47,445.64 L271.87,446.07 L272.27,445.54 L272.67,445.61 L273.07,445.73 L273.47,445.42 L273.87,445.58 L274.27,445.76 L274.67,445.60 L275.07,445.62 L275.48,445.47 L275.88,445.59 L276.28,445.53 L276.68,445.80 L277.08,445.64 L277.48,445.44 L277.88,444.99 L278.28,445.61 L278.68,445.61 L279.08,445.27 L279.48,445.04 L279.89,445.21 L280.29,445.61 L280.69,445.20 L281.09,445.32 L281.49,445.44 L281.89,445.63 L282.29,445.38 L282.69,445.35 L283.09,445.25 L283.49,445.68 L283.90,445.56 L284.30,445.32 L284.70,445.05 L285.10,445.16 L285.50,445.42 L285.90,445.15 L286.30,445.47 L286.70,445.35 L287.10,445.33 L287.50,445.39 L287.90,445.35 L288.31,445.07 L288.71,445.17 L289.11,445.69 L289.51,444.97 L289.91,445.11 L290.31,445.41 L290.71,445.15 L291.11,445.01 L291.51,444.90 L291.91,445.26 L292.31,445.35 L292.72,445.41 L293.12,445.13 L293.52,445.32 L293.92,444.90 L294.32,445.13 L294.72,444.95 L295.12,445.11 L295.52,445.21 L295.92,445.27 L296.32,444.84 L296.72,445.29 L297.13,444.93 L297.53,444.81 L297.93,444.97 L298.33,444.70 L298.73,444.98 L299.13,445.03 L299.53,444.92 L299.93,445.06 L300.33,444.88 L300.73,444.93 L301.14,444.63 L301.54,444.92 L301.94,444.73 L302.34,444.80 L302.74,444.86 L303.14,444.91 L303.54,444.53 L303.94,444.54 L304.34,444.78 L304.74,444.93 L305.14,444.89 L305.55,444.99 L305.95,445.06 L306.35,444.89 L306.75,444.78 L307.15,444.57 L307.55,444.57 L307.95,444.66 L308.35,444.80 L308.75,444.78 L309.15,444.72 L309.55,444.68 L309.96,444.83 L310.36,444.74 L310.76,444.74 L311.16,444.74 L311.56,444.56 L311.96,444.45 L312.36,444.75 L312.76,444.72 L313.16,444.58 L313.56,444.54 L313.97,445.07 L314.37,444.45 L314.77,444.55 L315.17,444.64 L315.57,444.34 L315.97,444.59 L316.37,444.92 L316.77,444.73 L317.17,444.67 L317.57,444.65 L317.97,444.54 L318.38,444.70 L318.78,444.47 L319.18,444.41 L319.58,444.51 L319.98,444.66 L320.38,444.54 L320.78,444.60 L321.18,444.05 L321.58,444.69 L321.98,444.91 L322.38,444.70 L322.79,444.36 L323.19,444.25 L323.59,444.46 L323.99,444.20 L324.39,444.54 L324.79,444.28 L325.19,444.57 L325.59,444.64 L325.99,443.96 L326.39,444.42 L326.79,444.21 L327.20,444.06 L327.60,444.21 L328.00,444.29 L328.40,444.53 L328.80,444.01 L329.20,444.52 L329.60,444.71 L330.00,444.42 L330.40,444.40 L330.80,444.29 L331.21,444.05 L331.61,444.38 L332.01,444.35 L332.41,444.41 L332.81,444.77 L333.21,444.40 L333.61,444.33 L334.01,444.55 L334.41,443.96 L334.81,444.00 L335.21,444.15 L335.62,444.08 L336.02,444.35 L336.42,444.14 L336.82,444.55 L337.22,444.50 L337.62,444.34 L338.02,444.10 L338.42,444.30 L338.82,444.33 L339.22,443.95 L339.62,444.23 L340.03,444.29 L340.43,444.19 L340.83,444.45 L341.23,444.38 L341.63,443.96 L342.03,444.15 L342.43,443.95 L342.83,444.23 L343.23,443.93 L343.63,444.28 L344.03,444.17 L344.44,444.28 L344.84,444.05 L345.24,443.78 L345.64,444.42 L346.04,444.03 L346.44,444.33 L346.84,444.14 L347.24,444.18 L347.64,444.41 L348.04,444.10 L348.45,444.31 L348.85,443.73 L349.25,444.19 L349.65,443.96 L350.05,443.98 L350.45,444.00 L350.85,444.06 L351.25,444.32 L351.65,443.61 L352.05,443.99 L352.45,443.83 L352.86,444.20 L353.26,443.88 L353.66,444.05 L354.06,443.87 L354.46,444.08 L354.86,444.14 L355.26,443.85 L355.66,443.94 L356.06,443.64 L356.46,443.98 L356.86,444.08 L357.27,443.80 L357.67,444.13 L358.07,443.48 L358.47,443.52 L358.87,443.61 L359.27,443.78 L359.67,443.88 L360.07,443.85 L360.47,443.85 L360.87,444.00 L361.28,443.76 L361.68,443.60 L362.08,443.60 L362.48,444.26 L362.88,443.36 L363.28,443.79 L363.68,444.11 L364.08,443.91 L364.48,443.65 L364.88,443.81 L365.28,443.98 L365.69,444.04 L366.09,443.61 L366.49,443.94 L366.89,443.83 L367.29,444.00 L367.69,444.05 L368.09,443.70 L368.49,443.47 L368.89,443.84 L369.29,444.11 L369.69,443.89 L370.10,443.79 L370.50,444.22 L370.90,443.53 L371.30,443.91 L371.70,443.61 L372.10,443.73 L372.50,443.73 L372.90,444.01 L373.30,443.52 L373.70,443.60 L374.10,443.38 L374.51,443.79 L374.91,443.60 L375.31,443.77 L375.71,443.47 L376.11,443.60 L376.51,443.88 L376.91,443.63 L377.31,443.79 L377.71,443.76 L378.11,443.58 L378.52,443.34 L378.92,443.84 L379.32,443.68 L379.72,443.83 L380.12,443.23 L380.52,443.30 L380.92,443.20 L381.32,443.45 L381.72,443.83 L382.12,443.73 L382.52,443.60 L382.93,443.63 L383.33,443.75 L383.73,443.54 L384.13,443.67 L384.53,443.62 L384.93,443.15 L385.33,443.51 L385.73,443.85 L386.13,443.50 L386.53,443.54 L386.93,443.45 L387.34,443.47 L387.74,443.79 L388.14,443.50 L388.54,443.35 L388.94,442.93 L389.34,443.43 L389.74,443.15 L390.14,443.17 L390.54,443.70 L390.94,443.67 L391.34,443.15 L391.75,443.70 L392.15,443.61 L392.55,443.36 L392.95,443.66 L393.35,443.19 L393.75,443.27 L394.15,443.22 L394.55,443.28 L394.95,443.68 L395.35,443.23 L395.76,443.27 L396.16,443.30 L396.56,443.53 L396.96,443.42 L397.36,443.66 L397.76,443.34 L398.16,443.22 L398.56,443.38 L398.96,443.48 L399.36,443.28 L399.76,443.52 L400.17,443.83 L400.57,443.35 L400.97,443.47 L401.37,443.73 L401.77,443.32 L402.17,443.28 L402.57,443.23 L402.97,443.53 L403.37,443.55 L403.77,443.41 L404.17,443.45 L404.58,443.69 L404.98,443.61 L405.38,443.15 L405.78,443.43 L406.18,443.45 L406.58,443.57 L406.98,443.38 L407.38,443.29 L407.78,443.33 L408.18,443.06 L408.59,443.41 L408.99,443.30 L409.39,443.51 L409.79,443.21 L410.19,443.32 L410.59,443.21 L410.99,443.19 L411.39,443.54 L411.79,443.31 L412.19,443.49 L412.59,443.18 L413.00,443.42 L413.40,443.06 L413.80,443.30 L414.20,443.29 L414.60,443.51 L415.00,443.43" fill="none" stroke="#1a78bf" stroke-width="1.3" stroke-linejoin="round"/>
<path d="M243.00,443.04 L243.40,443.20 L243.80,442.87 L244.20,442.84 L244.60,442.77 L245.00,442.39 L245.41,442.19 L245.81,442.24 L246.21,441.89 L246.61,442.00 L247.01,442.08 L247.41,441.88 L247.81,441.38 L248.21,440.98 L248.61,441.22 L249.01,441.07 L249.41,441.32 L249.82,440.75 L250.22,440.68 L250.62,440.84 L251.02,440.35 L251.42,440.33 L251.82,440.77 L252.22,440.58 L252.62,440.21 L253.02,439.98 L253.42,439.50 L253.83,439.84 L254.23,439.58 L254.63,439.52 L255.03,439.18 L255.43,439.22 L255.83,439.06 L256.23,439.10 L256.63,439.32 L257.03,438.89 L257.43,438.17 L257.83,438.26 L258.24,437.97 L258.64,438.10 L259.04,438.39 L259.44,438.23 L259.84,437.83 L260.24,437.98 L260.64,437.56 L261.04,437.26 L261.44,437.16 L261.84,437.22 L262.24,437.80 L262.65,436.87 L263.05,437.54 L263.45,437.47 L263.85,436.92 L264.25,436.86 L264.65,436.60 L265.05,436.68 L265.45,436.79 L265.85,436.51 L266.25,436.72 L266.66,436.69 L267.06,436.36 L267.46,436.27 L267.86,436.08 L268.26,436.12 L268.66,435.61 L269.06,436.00 L269.46,435.87 L269.86,435.48 L270.26,436.31 L270.66,435.31 L271.07,435.27 L271.47,435.55 L271.87,434.82 L272.27,435.10 L272.67,434.81 L273.07,434.92 L273.47,435.10 L273.87,435.17 L274.27,435.35 L274.67,435.20 L275.07,435.25 L275.48,435.01 L275.88,434.63 L276.28,435.05 L276.68,434.51 L277.08,434.41 L277.48,435.00 L277.88,434.72 L278.28,434.49 L278.68,434.59 L279.08,434.58 L279.48,433.85 L279.89,434.18 L280.29,433.80 L280.69,434.13 L281.09,433.84 L281.49,434.40 L281.89,434.09 L282.29,433.64 L282.69,433.83 L283.09,433.42 L283.49,433.75 L283.90,433.85 L284.30,433.71 L284.70,433.01 L285.10,433.44 L285.50,433.64 L285.90,433.53 L286.30,433.74 L286.70,432.96 L287.10,433.46 L287.50,433.06 L287.90,433.27 L288.31,433.29 L288.71,433.33 L289.11,432.90 L289.51,433.09 L289.91,432.64 L290.31,432.52 L290.71,433.07 L291.11,432.84 L291.51,432.33 L291.91,432.52 L292.31,432.74 L292.72,433.16 L293.12,432.97 L293.52,432.85 L293.92,432.04 L294.32,432.50 L294.72,432.64 L295.12,432.57 L295.52,432.54 L295.92,432.31 L296.32,432.87 L296.72,432.74 L297.13,432.24 L297.53,431.93 L297.93,432.81 L298.33,431.99 L298.73,432.48 L299.13,432.65 L299.53,431.76 L299.93,432.10 L300.33,431.87 L300.73,432.10 L301.14,432.00 L301.54,432.46 L301.94,432.02 L302.34,431.81 L302.74,432.12 L303.14,431.67 L303.54,431.61 L303.94,432.36 L304.34,431.41 L304.74,431.48 L305.14,431.61 L305.55,431.25 L305.95,430.90 L306.35,431.82 L306.75,431.24 L307.15,431.29 L307.55,431.31 L307.95,431.10 L308.35,431.04 L308.75,431.39 L309.15,432.03 L309.55,431.51 L309.96,431.48 L310.36,430.78 L310.76,431.20 L311.16,430.82 L311.56,431.38 L311.96,431.06 L312.36,431.11 L312.76,431.05 L313.16,430.87 L313.56,430.56 L313.97,431.17 L314.37,430.55 L314.77,430.58 L315.17,430.82 L315.57,430.67 L315.97,430.94 L316.37,431.13 L316.77,430.88 L317.17,430.83 L317.57,430.76 L317.97,430.98 L318.38,430.14 L318.78,430.78 L319.18,430.36 L319.58,430.25 L319.98,430.59 L320.38,430.45 L320.78,430.71 L321.18,430.84 L321.58,429.79 L321.98,430.44 L322.38,431.03 L322.79,430.68 L323.19,430.83 L323.59,430.40 L323.99,429.92 L324.39,429.99 L324.79,430.52 L325.19,430.57 L325.59,430.04 L325.99,430.16 L326.39,430.30 L326.79,429.68 L327.20,430.08 L327.60,430.66 L328.00,430.81 L328.40,430.11 L328.80,430.67 L329.20,429.95 L329.60,429.85 L330.00,429.41 L330.40,430.36 L330.80,429.95 L331.21,430.75 L331.61,430.13 L332.01,430.08 L332.41,429.47 L332.81,430.45 L333.21,429.88 L333.61,429.93 L334.01,429.30 L334.41,430.23 L334.81,430.23 L335.21,429.74 L335.62,429.94 L336.02,430.02 L336.42,430.18 L336.82,429.91 L337.22,430.38 L337.62,429.78 L338.02,429.66 L338.42,429.69 L338.82,429.06 L339.22,429.57 L339.62,430.10 L340.03,429.87 L340.43,429.53 L340.83,429.87 L341.23,429.15 L341.63,429.66 L342.03,429.89 L342.43,429.93 L342.83,429.48 L343.23,429.97 L343.63,430.25 L344.03,429.55 L344.44,429.89 L344.84,429.19 L345.24,429.05 L345.64,429.82 L346.04,429.63 L346.44,429.67 L346.84,429.42 L347.24,429.50 L347.64,429.82 L348.04,430.08 L348.45,429.49 L348.85,429.05 L349.25,429.92 L349.65,429.71 L350.05,429.72 L350.45,429.56 L350.85,430.19 L351.25,429.51 L351.65,429.63 L352.05,428.91 L352.45,429.28 L352.86,429.24 L353.26,429.43 L353.66,429.53 L354.06,429.19 L354.46,429.92 L354.86,429.07 L355.26,429.25 L355.66,429.45 L356.06,428.99 L356.46,429.53 L356.86,429.54 L357.27,429.25 L357.67,429.90 L358.07,429.34 L358.47,429.39 L358.87,429.01 L359.27,428.79 L359.67,429.09 L360.07,429.17 L360.47,429.12 L360.87,429.48 L361.28,428.53 L361.68,428.89 L362.08,428.68 L362.48,429.62 L362.88,429.04 L363.28,429.04 L363.68,428.86 L364.08,429.45 L364.48,429.05 L364.88,429.23 L365.28,428.54 L365.69,429.50 L366.09,429.26 L366.49,429.30 L366.89,429.49 L367.29,429.06 L367.69,429.05 L368.09,429.31 L368.49,429.22 L368.89,429.01 L369.29,429.09 L369.69,428.91 L370.10,429.27 L370.50,429.33 L370.90,429.04 L371.30,429.60 L371.70,428.56 L372.10,428.95 L372.50,429.52 L372.90,428.88 L373.30,428.51 L373.70,429.41 L374.10,429.14 L374.51,428.61 L374.91,429.20 L375.31,428.65 L375.71,428.55 L376.11,428.90 L376.51,428.79 L376.91,428.60 L377.31,428.81 L377.71,428.62 L378.11,428.93 L378.52,428.90 L378.92,429.12 L379.32,428.75 L379.72,428.48 L380.12,428.48 L380.52,428.80 L380.92,429.33 L381.32,429.11 L381.72,428.66 L382.12,429.13 L382.52,428.49 L382.93,429.14 L383.33,428.71 L383.73,429.05 L384.13,429.00 L384.53,428.73 L384.93,428.90 L385.33,428.48 L385.73,428.77 L386.13,429.12 L386.53,430.02 L386.93,428.99 L387.34,428.80 L387.74,428.46 L388.14,429.08 L388.54,428.26 L388.94,428.51 L389.34,428.86 L389.74,428.38 L390.14,429.20 L390.54,429.06 L390.94,428.56 L391.34,428.56 L391.75,428.32 L392.15,428.29 L392.55,428.84 L392.95,428.89 L393.35,428.81 L393.75,428.78 L394.15,428.53 L394.55,428.80 L394.95,428.24 L395.35,428.69 L395.76,429.12 L396.16,429.07 L396.56,428.53 L396.96,428.57 L397.36,429.08 L397.76,429.20 L398.16,428.21 L398.56,428.53 L398.96,428.72 L399.36,429.01 L399.76,428.39 L400.17,428.84 L400.57,428.55 L400.97,429.35 L401.37,428.76 L401.77,428.59 L402.17,428.53 L402.57,428.94 L402.97,428.83 L403.37,428.29 L403.77,428.68 L404.17,428.21 L404.58,428.39 L404.98,428.22 L405.38,428.21 L405.78,428.40 L406.18,428.31 L406.58,428.76 L406.98,428.84 L407.38,428.53 L407.78,428.26 L408.18,428.84 L408.59,427.99 L408.99,428.01 L409.39,428.81 L409.79,428.79 L410.19,428.89 L410.59,428.53 L410.99,428.21 L411.39,428.44 L411.79,428.76 L412.19,428.36 L412.59,428.38 L413.00,428.17 L413.40,428.24 L413.80,428.84 L414.20,428.72 L414.60,428.24 L415.00,428.26" fill="none" stroke="#1b5f8c" stroke-width="1.5" stroke-linejoin="round"/>
<path d="M243.00,407.66 L243.40,408.03 L243.80,407.27 L244.20,407.60 L244.60,406.74 L245.00,407.04 L245.41,407.65 L245.81,407.78 L246.21,406.90 L246.61,407.00 L247.01,407.58 L247.41,407.06 L247.81,406.95 L248.21,407.33 L248.61,407.16 L249.01,407.49 L249.41,407.33 L249.82,406.74 L250.22,406.89 L250.62,406.89 L251.02,406.34 L251.42,406.47 L251.82,407.24 L252.22,406.19 L252.62,407.21 L253.02,406.92 L253.42,406.74 L253.83,407.00 L254.23,406.97 L254.63,407.27 L255.03,406.63 L255.43,406.70 L255.83,406.71 L256.23,407.58 L256.63,407.23 L257.03,406.50 L257.43,406.76 L257.83,406.65 L258.24,406.97 L258.64,407.09 L259.04,407.96 L259.44,406.35 L259.84,407.54 L260.24,407.35 L260.64,406.94 L261.04,407.21 L261.44,407.12 L261.84,407.39 L262.24,407.83 L262.65,406.87 L263.05,408.06 L263.45,407.44 L263.85,408.25 L264.25,407.87 L264.65,408.25 L265.05,408.04 L265.45,408.30 L265.85,407.94 L266.25,407.64 L266.66,408.29 L267.06,408.36 L267.46,408.96 L267.86,407.36 L268.26,408.13 L268.66,408.68 L269.06,407.79 L269.46,408.24 L269.86,409.22 L270.26,408.97 L270.66,408.09 L271.07,409.05 L271.47,408.99 L271.87,408.87 L272.27,408.75 L272.67,408.73 L273.07,408.32 L273.47,408.50 L273.87,409.04 L274.27,408.83 L274.67,409.56 L275.07,408.72 L275.48,407.93 L275.88,408.79 L276.28,409.07 L276.68,409.15 L277.08,409.06 L277.48,408.74 L277.88,409.70 L278.28,408.87 L278.68,409.46 L279.08,409.10 L279.48,408.77 L279.89,409.85 L280.29,408.31 L280.69,409.01 L281.09,409.56 L281.49,409.28 L281.89,409.76 L282.29,409.45 L282.69,409.34 L283.09,410.43 L283.49,409.51 L283.90,409.57 L284.30,409.23 L284.70,409.40 L285.10,409.99 L285.50,409.99 L285.90,409.80 L286.30,409.55 L286.70,410.14 L287.10,409.22 L287.50,409.80 L287.90,409.87 L288.31,409.66 L288.71,410.10 L289.11,409.80 L289.51,409.78 L289.91,410.86 L290.31,410.47 L290.71,410.68 L291.11,410.26 L291.51,410.66 L291.91,410.62 L292.31,410.82 L292.72,411.32 L293.12,410.31 L293.52,410.54 L293.92,410.45 L294.32,409.09 L294.72,409.97 L295.12,410.57 L295.52,410.85 L295.92,410.40 L296.32,411.12 L296.72,411.21 L297.13,410.56 L297.53,411.33 L297.93,411.49 L298.33,411.01 L298.73,410.46 L299.13,411.48 L299.53,410.86 L299.93,410.80 L300.33,411.03 L300.73,410.81 L301.14,411.48 L301.54,411.40 L301.94,411.61 L302.34,411.38 L302.74,410.87 L303.14,411.15 L303.54,411.60 L303.94,411.12 L304.34,412.48 L304.74,411.25 L305.14,411.14 L305.55,411.87 L305.95,411.74 L306.35,411.46 L306.75,411.41 L307.15,411.70 L307.55,411.90 L307.95,411.90 L308.35,411.50 L308.75,411.82 L309.15,412.02 L309.55,412.01 L309.96,410.50 L310.36,411.40 L310.76,411.48 L311.16,411.72 L311.56,411.91 L311.96,412.23 L312.36,412.13 L312.76,411.86 L313.16,411.94 L313.56,412.66 L313.97,411.73 L314.37,412.12 L314.77,412.65 L315.17,412.18 L315.57,411.25 L315.97,412.24 L316.37,411.95 L316.77,412.08 L317.17,412.57 L317.57,412.36 L317.97,412.09 L318.38,412.57 L318.78,412.41 L319.18,412.29 L319.58,412.39 L319.98,412.39 L320.38,412.17 L320.78,412.14 L321.18,412.36 L321.58,411.98 L321.98,411.88 L322.38,412.92 L322.79,412.32 L323.19,412.43 L323.59,412.40 L323.99,412.48 L324.39,412.50 L324.79,412.53 L325.19,412.20 L325.59,412.91 L325.99,412.28 L326.39,412.98 L326.79,411.82 L327.20,412.18 L327.60,413.01 L328.00,412.57 L328.40,412.38 L328.80,412.81 L329.20,412.25 L329.60,412.72 L330.00,411.81 L330.40,412.53 L330.80,412.47 L331.21,412.96 L331.61,413.10 L332.01,412.43 L332.41,413.42 L332.81,412.56 L333.21,411.98 L333.61,411.87 L334.01,413.45 L334.41,412.81 L334.81,412.60 L335.21,412.57 L335.62,412.45 L336.02,413.44 L336.42,412.88 L336.82,413.64 L337.22,412.86 L337.62,412.01 L338.02,413.30 L338.42,412.83 L338.82,412.90 L339.22,413.63 L339.62,412.91 L340.03,413.50 L340.43,413.04 L340.83,412.76 L341.23,413.28 L341.63,412.85 L342.03,413.59 L342.43,413.50 L342.83,413.15 L343.23,413.38 L343.63,413.38 L344.03,413.05 L344.44,413.53 L344.84,413.10 L345.24,413.45 L345.64,412.84 L346.04,413.27 L346.44,413.41 L346.84,412.94 L347.24,413.10 L347.64,413.07 L348.04,413.58 L348.45,413.02 L348.85,413.49 L349.25,413.94 L349.65,413.49 L350.05,412.71 L350.45,413.42 L350.85,413.80 L351.25,413.28 L351.65,413.85 L352.05,413.67 L352.45,413.60 L352.86,413.34 L353.26,413.25 L353.66,413.37 L354.06,413.51 L354.46,413.71 L354.86,413.68 L355.26,413.40 L355.66,413.56 L356.06,413.70 L356.46,412.91 L356.86,413.26 L357.27,413.26 L357.67,413.51 L358.07,413.50 L358.47,413.52 L358.87,413.28 L359.27,413.91 L359.67,413.77 L360.07,413.01 L360.47,413.68 L360.87,413.24 L361.28,414.38 L361.68,413.53 L362.08,413.57 L362.48,413.77 L362.88,413.67 L363.28,413.74 L363.68,414.39 L364.08,413.87 L364.48,414.13 L364.88,414.26 L365.28,413.43 L365.69,414.50 L366.09,414.11 L366.49,414.23 L366.89,413.52 L367.29,414.20 L367.69,414.05 L368.09,413.68 L368.49,414.82 L368.89,414.14 L369.29,413.83 L369.69,414.02 L370.10,414.31 L370.50,414.41 L370.90,414.20 L371.30,414.47 L371.70,414.58 L372.10,413.51 L372.50,413.82 L372.90,413.65 L373.30,414.07 L373.70,414.62 L374.10,414.31 L374.51,413.64 L374.91,413.96 L375.31,414.49 L375.71,413.88 L376.11,414.06 L376.51,414.23 L376.91,413.39 L377.31,414.44 L377.71,414.28 L378.11,414.38 L378.52,413.77 L378.92,413.86 L379.32,413.94 L379.72,414.29 L380.12,414.23 L380.52,414.26 L380.92,414.93 L381.32,414.75 L381.72,413.95 L382.12,413.98 L382.52,414.94 L382.93,414.13 L383.33,414.82 L383.73,414.92 L384.13,414.07 L384.53,414.19 L384.93,414.34 L385.33,413.97 L385.73,413.93 L386.13,414.17 L386.53,414.68 L386.93,414.17 L387.34,414.27 L387.74,414.17 L388.14,413.82 L388.54,414.97 L388.94,413.45 L389.34,414.13 L389.74,414.62 L390.14,413.85 L390.54,414.66 L390.94,414.92 L391.34,414.08 L391.75,414.52 L392.15,414.00 L392.55,414.65 L392.95,414.49 L393.35,414.55 L393.75,415.02 L394.15,414.67 L394.55,415.02 L394.95,414.74 L395.35,414.02 L395.76,414.61 L396.16,414.71 L396.56,413.94 L396.96,415.06 L397.36,414.56 L397.76,414.68 L398.16,414.18 L398.56,414.57 L398.96,414.67 L399.36,414.43 L399.76,414.60 L400.17,413.72 L400.57,415.12 L400.97,414.13 L401.37,413.71 L401.77,414.21 L402.17,414.26 L402.57,414.82 L402.97,414.24 L403.37,414.72 L403.77,414.23 L404.17,415.50 L404.58,414.84 L404.98,415.41 L405.38,414.23 L405.78,414.90 L406.18,414.26 L406.58,414.88 L406.98,414.92 L407.38,414.01 L407.78,414.20 L408.18,414.19 L408.59,414.06 L408.99,414.37 L409.39,414.28 L409.79,414.09 L410.19,414.71 L410.59,414.90 L410.99,414.16 L411.39,414.46 L411.79,414.69 L412.19,414.60 L412.59,414.41 L413.00,415.02 L413.40,415.04 L413.80,414.97 L414.20,414.62 L414.60,415.50 L415.00,415.40" fill="none" stroke="#0b2438" stroke-width="1.6" stroke-linejoin="round"/>
<line x1="410.5" y1="34.2" x2="410.5" y2="76.2" stroke="#333" stroke-width="1.2"/>
<line x1="408.6" y1="34.2" x2="412.4" y2="34.2" stroke="#222" stroke-width="1.2"/>
<line x1="408.6" y1="76.2" x2="412.4" y2="76.2" stroke="#222" stroke-width="1.2"/>
<line x1="410.5" y1="242.4" x2="410.5" y2="284.1" stroke="#333" stroke-width="1.2"/>
<line x1="408.6" y1="242.4" x2="412.4" y2="242.4" stroke="#222" stroke-width="1.2"/>
<line x1="408.6" y1="284.1" x2="412.4" y2="284.1" stroke="#222" stroke-width="1.2"/>
<text x="245.5" y="44.5" font-size="12.5" fill="#d0404f" font-weight="normal" text-anchor="start" >3.7CA</text>
<text x="245.5" y="253" font-size="12.5" fill="#1d3d5a" font-weight="normal" text-anchor="start" >7.3CA</text>
<text x="256.9" y="138.6" font-size="12.4" font-weight="normal"><tspan dy="0.00" fill="#333333">C</tspan><tspan dy="-5.60" font-size="11" fill="#cc1a20">16</tspan><tspan dy="5.60" fill="#cc1a20">O</tspan><tspan dy="-5.60" font-size="11" fill="#cc1a20">16</tspan><tspan dy="5.60" fill="#cc1a20">O</tspan></text>
<text x="262.4" y="194.6" font-size="12.4" font-weight="normal"><tspan dy="0.00" fill="#333333">C</tspan><tspan dy="-5.60" font-size="11" fill="#cc1a20">16</tspan><tspan dy="5.60" fill="#cc1a20">O</tspan><tspan dy="-5.60" font-size="11" fill="#2a86cc">18</tspan><tspan dy="5.60" fill="#2a86cc">O</tspan></text>
<text x="361.4" y="213.9" font-size="12.4" font-weight="normal"><tspan dy="0.00" fill="#333333">C</tspan><tspan dy="-5.60" font-size="11" fill="#2a86cc">18</tspan><tspan dy="5.60" fill="#2a86cc">O</tspan><tspan dy="-5.60" font-size="11" fill="#2a86cc">18</tspan><tspan dy="5.60" fill="#2a86cc">O</tspan></text>
<text x="247" y="399.5" font-size="12.4" font-weight="normal"><tspan dy="0.00" fill="#333333">C</tspan><tspan dy="-5.60" font-size="11" fill="#cc1a20">16</tspan><tspan dy="5.60" fill="#cc1a20">O</tspan><tspan dy="-5.60" font-size="11" fill="#cc1a20">16</tspan><tspan dy="5.60" fill="#cc1a20">O</tspan></text>
<text x="346.4" y="359.3" font-size="12.4" font-weight="normal"><tspan dy="0.00" fill="#333333">C</tspan><tspan dy="-5.60" font-size="11" fill="#cc1a20">16</tspan><tspan dy="5.60" fill="#cc1a20">O</tspan><tspan dy="-5.60" font-size="11" fill="#2a86cc">18</tspan><tspan dy="5.60" fill="#2a86cc">O</tspan></text>
<text x="361.3" y="387.8" font-size="12.4" font-weight="normal"><tspan dy="0.00" fill="#333333">C</tspan><tspan dy="-5.60" font-size="11" fill="#2a86cc">18</tspan><tspan dy="5.60" fill="#2a86cc">O</tspan><tspan dy="-5.60" font-size="11" fill="#2a86cc">18</tspan><tspan dy="5.60" fill="#2a86cc">O</tspan></text>
<line x1="334.8" y1="429.7" x2="357.25" y2="368.04" stroke="#1b5f8c" stroke-width="1.3"/>
<polygon points="359.3,362.4 359.41,368.82 355.09,367.25" fill="#1b5f8c"/>
<line x1="355.8" y1="444.6" x2="374.44" y2="396.30" stroke="#1a78bf" stroke-width="1.3"/>
<polygon points="376.6,390.7 376.59,397.13 372.29,395.47" fill="#1a78bf"/>
<text x="31.3" y="9.8" font-size="12.4" fill="#222">O<tspan font-size="8.6" dy="3">2</tspan><tspan dy="-3">-deficient</tspan></text>
<text x="31.3" y="27" font-size="12.4" fill="#222">(CO 7 kPa <tspan font-size="8.6" dy="-4.5">18</tspan><tspan dy="4.5">O</tspan><tspan font-size="8.6" dy="3">2</tspan><tspan dy="-3"> 0.7 kPa)</tspan></text>
<text x="243.3" y="9.8" font-size="12.4" fill="#222">O<tspan font-size="8.6" dy="3">2</tspan><tspan dy="-3">-rich</tspan></text>
<text x="243.3" y="27" font-size="12.4" fill="#222">(CO 0.7 kPa <tspan font-size="8.6" dy="-4.5">18</tspan><tspan dy="4.5">O</tspan><tspan font-size="8.6" dy="3">2</tspan><tspan dy="-3"> 0.7 kPa)</tspan></text>
<text x="2" y="32.3" font-size="13" fill="#222" font-weight="normal" text-anchor="start" >(a)</text>
<text x="215.6" y="32.3" font-size="13" fill="#222" font-weight="normal" text-anchor="start" >(b)</text>
<text x="0" y="0" font-size="18.7" fill="#111" transform="translate(17.3,308) rotate(-90)">Mass intensity (a.u.)</text>
<circle cx="476.8" cy="35" r="8.3" fill="#70ad47"/>
<text x="487.3" y="40.2" font-size="13" fill="#111" font-weight="bold" text-anchor="start" >Pt</text>
<circle cx="521.3" cy="34.6" r="6.6" fill="#767171"/>
<text x="533.2" y="40.2" font-size="13" fill="#111" font-weight="bold" text-anchor="start" >C</text>
<circle cx="560.2" cy="35" r="6.7" fill="#c00000"/>
<text x="0" y="0" transform="translate(572.2,40.2) scale(0.95,1)" font-size="12.5" font-weight="bold" stroke-width="0.25"><tspan dy="-4.50" font-size="9" fill="#111" stroke="#111">16</tspan><tspan dy="4.50" fill="#111" stroke="#111">O</tspan></text>
<circle cx="608.4" cy="34.2" r="6.7" fill="#0070c0"/>
<text x="0" y="0" transform="translate(620.7,40.2) scale(0.95,1)" font-size="12.5" font-weight="bold" stroke-width="0.25"><tspan dy="-4.50" font-size="9" fill="#111" stroke="#111">18</tspan><tspan dy="4.50" fill="#111" stroke="#111">O</tspan></text>
<text x="0" y="0" transform="translate(505.2,67.8) scale(0.95,1)" font-size="16.3" font-weight="bold" stroke-width="0.25"><tspan dy="0.00" fill="#111" stroke="#111">C</tspan><tspan dy="-4.60" font-size="11.5" fill="#c00000" stroke="#c00000">16</tspan><tspan dy="4.60" fill="#c00000" stroke="#c00000">O</tspan></text>
<text x="0" y="0" transform="translate(558.5,67.8) scale(0.95,1)" font-size="16.3" font-weight="bold" stroke-width="0.25"><tspan dy="-4.60" font-size="11.5" fill="#0070c0" stroke="#0070c0">18</tspan><tspan dy="4.60" fill="#0070c0" stroke="#0070c0">O</tspan><tspan dy="-4.60" font-size="11.5" fill="#0070c0" stroke="#0070c0">18</tspan><tspan dy="4.60" fill="#0070c0" stroke="#0070c0">O</tspan></text>
<text x="440.8" y="94.5" font-size="13.5" fill="#222" font-weight="normal" text-anchor="start" >(c)</text>
<path d="M459.20000000000005,189.5 A96.5,45.5 0 0 1 652.2,189.5 Z" fill="#ffd966"/>
<rect x="489.8" y="154.7" width="14.399999999999977" height="14.200000000000017" fill="#fff" stroke="#111" stroke-width="1.4" stroke-dasharray="3,1.8"/>
<line x1="476.1" y1="128.6" x2="479.8" y2="146.7" stroke="#111" stroke-width="1.5"/>
<circle cx="476.1" cy="128.6" r="6.7" fill="#c00000"/>
<circle cx="481.8" cy="160.4" r="8.2" fill="#70ad47"/>
<circle cx="479.8" cy="146.7" r="6.7" fill="#767171"/>
<circle cx="496.7" cy="161.7" r="6.7" fill="#c00000"/>
<text x="0" y="0" font-size="14.5" font-weight="bold" fill="#111" stroke="#111" stroke-width="0.3" transform="translate(465.5,185) scale(0.9,1)">CeO<tspan font-size="10" dy="3.2">x</tspan></text>
<line x1="507.7" y1="132.3" x2="521.04" y2="127.14" stroke="#111" stroke-width="1.7"/>
<polygon points="527.1,124.8 522.41,130.69 519.67,123.60" fill="#111"/>
<rect x="543.3" y="142.6" width="14.5" height="14.599999999999994" fill="#fff" stroke="#111" stroke-width="1.4" stroke-dasharray="3,1.8"/>
<line x1="538.8" y1="119.9" x2="545.3" y2="134.3" stroke="#111" stroke-width="1.5"/>
<circle cx="538.8" cy="119.9" r="6.7" fill="#c00000"/>
<circle cx="534.6" cy="144.8" r="8.2" fill="#70ad47"/>
<circle cx="545.3" cy="134.3" r="6.7" fill="#767171"/>
<circle cx="550.8" cy="150.2" r="6.7" fill="#c00000"/>
<path d="M553.5,124.2 C550,120.5 548.8,117 549.8,112.5 C551,108 555,104 560.4,103.5 C562.5,103.3 564.5,103.8 566,104.4" fill="none" stroke="#002060" stroke-width="3.6"/>
<polygon points="570.2,105.6 568.8,100.6 563.2,108.5" fill="#002060"/>
<text x="0" y="0" transform="translate(574.6,110.3) scale(0.95,1)" font-size="16.3" font-weight="bold" stroke-width="0.25"><tspan dy="0.00" fill="#111" stroke="#111">C</tspan><tspan dy="-4.60" font-size="11.5" fill="#c00000" stroke="#c00000">16</tspan><tspan dy="4.60" fill="#c00000" stroke="#c00000">O</tspan><tspan dy="-4.60" font-size="11.5" fill="#c00000" stroke="#c00000">16</tspan><tspan dy="4.60" fill="#c00000" stroke="#c00000">O</tspan></text>
<line x1="571" y1="125.3" x2="586.70" y2="131.81" stroke="#111" stroke-width="1.7"/>
<polygon points="592.7,134.3 585.24,135.32 588.15,128.30" fill="#111"/>
<circle cx="600.1" cy="147.2" r="8.2" fill="#70ad47"/>
<rect x="603.4" y="154.2" width="14.200000000000045" height="13.700000000000017" fill="#fff" stroke="#111" stroke-width="1.4" stroke-dasharray="3,1.8"/>
<rect x="588.4" y="172.1" width="14.200000000000045" height="14.400000000000006" fill="#fff" stroke="#111" stroke-width="1.4" stroke-dasharray="3,1.8"/>
<line x1="594.7" y1="175.8" x2="606.55" y2="163.95" stroke="#3b5a2a" stroke-width="4.2"/>
<polygon points="611.5,159 610.09,167.49 603.01,160.41" fill="#3b5a2a"/>
<text x="0" y="0" transform="translate(576.3,185.4) scale(0.95,1)" font-size="16.5" font-weight="bold" stroke-width="0.25"><tspan dy="-4.60" font-size="11.5" fill="#c00000" stroke="#c00000">16</tspan><tspan dy="4.60" fill="#c00000" stroke="#c00000">O</tspan></text>
<text x="439.2" y="214.5" font-size="13.5" fill="#222" font-weight="normal" text-anchor="start" >(d)</text>
<path d="M463.59999999999997,312.7 A96.55,46.5 0 0 1 656.6999999999999,312.7 Z" fill="#ffd966"/>
<text x="0" y="0" transform="translate(448.8,255.2) scale(0.95,1)" font-size="16.3" font-weight="bold" stroke-width="0.25"><tspan dy="-4.60" font-size="11.5" fill="#0070c0" stroke="#0070c0">18</tspan><tspan dy="4.60" fill="#0070c0" stroke="#0070c0">O</tspan><tspan dy="-4.60" font-size="11.5" fill="#0070c0" stroke="#0070c0">18</tspan><tspan dy="4.60" fill="#0070c0" stroke="#0070c0">O</tspan></text>
<line x1="484.1" y1="262.2" x2="492.42" y2="273.81" stroke="#002060" stroke-width="4.2"/>
<polygon points="496.5,279.5 488.36,276.72 496.49,270.90" fill="#002060"/>
<circle cx="481.8" cy="286.9" r="7.8" fill="#70ad47"/>
<rect x="490.2" y="280.4" width="14.900000000000034" height="14.0" fill="#fff" stroke="#111" stroke-width="1.4" stroke-dasharray="3,1.8"/>
<line x1="519.6" y1="300" x2="508.93" y2="291.70" stroke="#3b5a2a" stroke-width="4.2"/>
<polygon points="503.4,287.4 512.00,287.75 505.86,295.64" fill="#3b5a2a"/>
<text x="0" y="0" font-size="14.5" font-weight="bold" fill="#111" stroke="#111" stroke-width="0.3" transform="translate(470,309.5) scale(0.9,1)">CeO<tspan font-size="10" dy="3.2">x</tspan></text>
<rect x="517.4" y="299.2" width="14.800000000000068" height="13.400000000000034" fill="#fff" stroke="#111" stroke-width="1.4" stroke-dasharray="3,1.8"/>
<text x="0" y="0" transform="translate(506.5,312) scale(0.95,1)" font-size="16.5" font-weight="bold" stroke-width="0.25"><tspan dy="-4.60" font-size="11.5" fill="#0070c0" stroke="#0070c0">18</tspan><tspan dy="4.60" fill="#0070c0" stroke="#0070c0">O</tspan></text>
<line x1="535.8" y1="322.6" x2="530.19" y2="316.39" stroke="#002060" stroke-width="4.2"/>
<polygon points="525.5,311.2 533.90,313.04 526.48,319.75" fill="#002060"/>
<text x="0" y="0" transform="translate(527.7,336.5) scale(0.95,1)" font-size="16.3" font-weight="bold" stroke-width="0.25"><tspan dy="-4.60" font-size="11.5" fill="#0070c0" stroke="#0070c0">18</tspan><tspan dy="4.60" fill="#0070c0" stroke="#0070c0">O</tspan><tspan dy="-4.60" font-size="11.5" fill="#0070c0" stroke="#0070c0">18</tspan><tspan dy="4.60" fill="#0070c0" stroke="#0070c0">O</tspan></text>
<line x1="513.5" y1="259.4" x2="526.02" y2="255.32" stroke="#111" stroke-width="1.7"/>
<polygon points="532.2,253.3 527.20,258.93 524.84,251.70" fill="#111"/>
<rect x="562.2" y="260.9" width="14.599999999999909" height="14.0" fill="#fff" stroke="#111" stroke-width="1.4" stroke-dasharray="3,1.8"/>
<line x1="548.2" y1="234.8" x2="552.4" y2="253" stroke="#111" stroke-width="1.5"/>
<circle cx="548.2" cy="234.8" r="6.7" fill="#c00000"/>
<circle cx="553.8" cy="267" r="8.2" fill="#70ad47"/>
<circle cx="552.4" cy="253" r="6.6" fill="#767171"/>
<circle cx="569.2" cy="268.4" r="6.7" fill="#0070c0"/>
<line x1="583.3" y1="244.9" x2="598.38" y2="251.72" stroke="#111" stroke-width="1.7"/>
<polygon points="604.3,254.4 596.81,255.18 599.94,248.26" fill="#111"/>
<rect x="627.5" y="281.9" width="14.600000000000023" height="13.400000000000034" fill="#fff" stroke="#111" stroke-width="1.4" stroke-dasharray="3,1.8"/>
<line x1="625.3" y1="256.1" x2="632.3" y2="270.7" stroke="#111" stroke-width="1.5"/>
<line x1="632.3" y1="270.7" x2="635.1" y2="288.3" stroke="#111" stroke-width="1.5"/>
<circle cx="625.3" cy="256.1" r="6.7" fill="#c00000"/>
<circle cx="619.7" cy="278.5" r="8.2" fill="#70ad47"/>
<circle cx="632.3" cy="270.7" r="6.6" fill="#767171"/>
<circle cx="635.1" cy="288.3" r="6.7" fill="#0070c0"/>
<g><path d="M645.6,257.2 C639.5,254.5 634.5,250 633.7,244.5 C633.2,239 637.5,235 642,234.6 C644.5,234.3 646.5,234.3 648,234.4" fill="none" stroke="#002060" stroke-width="4"/><polygon points="653.6,235.4 649.4,229.2 646.3,239.5" fill="#002060"/></g>
<text x="0" y="0" transform="translate(624.7,228) scale(0.95,1)" font-size="16.3" font-weight="bold" stroke-width="0.25"><tspan dy="0.00" fill="#111" stroke="#111">C</tspan><tspan dy="-4.60" font-size="11.5" fill="#c9304a" stroke="#c9304a">16</tspan><tspan dy="4.60" fill="#c9304a" stroke="#c9304a">O</tspan><tspan dy="-4.60" font-size="11.5" fill="#0070c0" stroke="#0070c0">18</tspan><tspan dy="4.60" fill="#0070c0" stroke="#0070c0">O</tspan></text>
<text x="439.2" y="350.5" font-size="13.5" fill="#222" font-weight="normal" text-anchor="start" >(e)</text>
<path d="M462.59999999999997,454.6 A96.7,45 0 0 1 656.0,454.6 Z" fill="#ffd966"/>
<text x="479.7" y="375.8" font-size="14" fill="#111" font-weight="bold" text-anchor="middle" stroke="#111" stroke-width="0.35">Oxygen</text>
<text x="479.7" y="392.2" font-size="14" fill="#111" font-weight="bold" text-anchor="middle" stroke="#111" stroke-width="0.35">exchange</text>
<rect x="491.3" y="421.4" width="14.300000000000011" height="13.5" fill="#fff" stroke="#111" stroke-width="1.4" stroke-dasharray="3,1.8"/>
<line x1="495.5" y1="414.7" x2="511" y2="411.3" stroke="#111" stroke-width="1.5"/>
<circle cx="483.6" cy="424.1" r="8.1" fill="#70ad47"/>
<circle cx="495.5" cy="414.7" r="6.3" fill="#767171"/>
<circle cx="511" cy="411.3" r="6.5" fill="#c00000"/>
<circle cx="498.5" cy="428.5" r="6.5" fill="#0070c0"/>
<line x1="499.8" y1="428.9" x2="508.77" y2="415.16" stroke="#002060" stroke-width="3.8"/>
<polygon points="512.6,409.3 512.79,417.79 504.75,412.54" fill="#002060"/>
<text x="0" y="0" font-size="14.5" font-weight="bold" fill="#111" stroke="#111" stroke-width="0.3" transform="translate(468.5,450.2) scale(0.9,1)">CeO<tspan font-size="10" dy="3.2">x</tspan></text>
<line x1="521.2" y1="399.3" x2="536.19" y2="394.71" stroke="#111" stroke-width="1.7"/>
<polygon points="542.4,392.8 537.30,398.34 535.07,391.07" fill="#111"/>
<line x1="568.4" y1="378.8" x2="560.6" y2="395.2" stroke="#111" stroke-width="1.5"/>
<circle cx="568.4" cy="378.8" r="6.5" fill="#0070c0"/>
<circle cx="559" cy="409.4" r="8" fill="#70ad47"/>
<circle cx="560.6" cy="395.2" r="6.5" fill="#767171"/>
<line x1="574.1" y1="393" x2="588.53" y2="398.56" stroke="#111" stroke-width="1.7"/>
<polygon points="594.6,400.9 587.17,402.11 589.90,395.02" fill="#111"/>
<rect x="588.3" y="414.4" width="15.700000000000045" height="14.800000000000011" fill="#fff" stroke="#111" stroke-width="1.4" stroke-dasharray="3,1.8"/>
<line x1="605.6" y1="404.7" x2="619.8" y2="390.8" stroke="#111" stroke-width="1.5"/>
<line x1="605.6" y1="404.7" x2="596.2" y2="422.3" stroke="#111" stroke-width="1.5"/>
<circle cx="619.8" cy="390.8" r="6.5" fill="#0070c0"/>
<circle cx="615.1" cy="415.7" r="8" fill="#70ad47"/>
<circle cx="605.6" cy="404.7" r="6.5" fill="#767171"/>
<circle cx="596.2" cy="422.3" r="6.5" fill="#0070c0"/>
<g transform="translate(-5.5,156.8)"><path d="M645.6,257.2 C639.5,254.5 634.5,250 633.7,244.5 C633.2,239 637.5,235 642,234.6 C644.5,234.3 646.5,234.3 648,234.4" fill="none" stroke="#002060" stroke-width="4"/><polygon points="653.6,235.4 649.4,229.2 646.3,239.5" fill="#002060"/></g>
<text x="0" y="0" transform="translate(623,379.5) scale(0.95,1)" font-size="16.3" font-weight="bold" stroke-width="0.25"><tspan dy="0.00" fill="#111" stroke="#111">C</tspan><tspan dy="-4.60" font-size="11.5" fill="#0070c0" stroke="#0070c0">18</tspan><tspan dy="4.60" fill="#0070c0" stroke="#0070c0">O</tspan><tspan dy="-4.60" font-size="11.5" fill="#0070c0" stroke="#0070c0">18</tspan><tspan dy="4.60" fill="#0070c0" stroke="#0070c0">O</tspan></text>
</svg>
</body></html>
